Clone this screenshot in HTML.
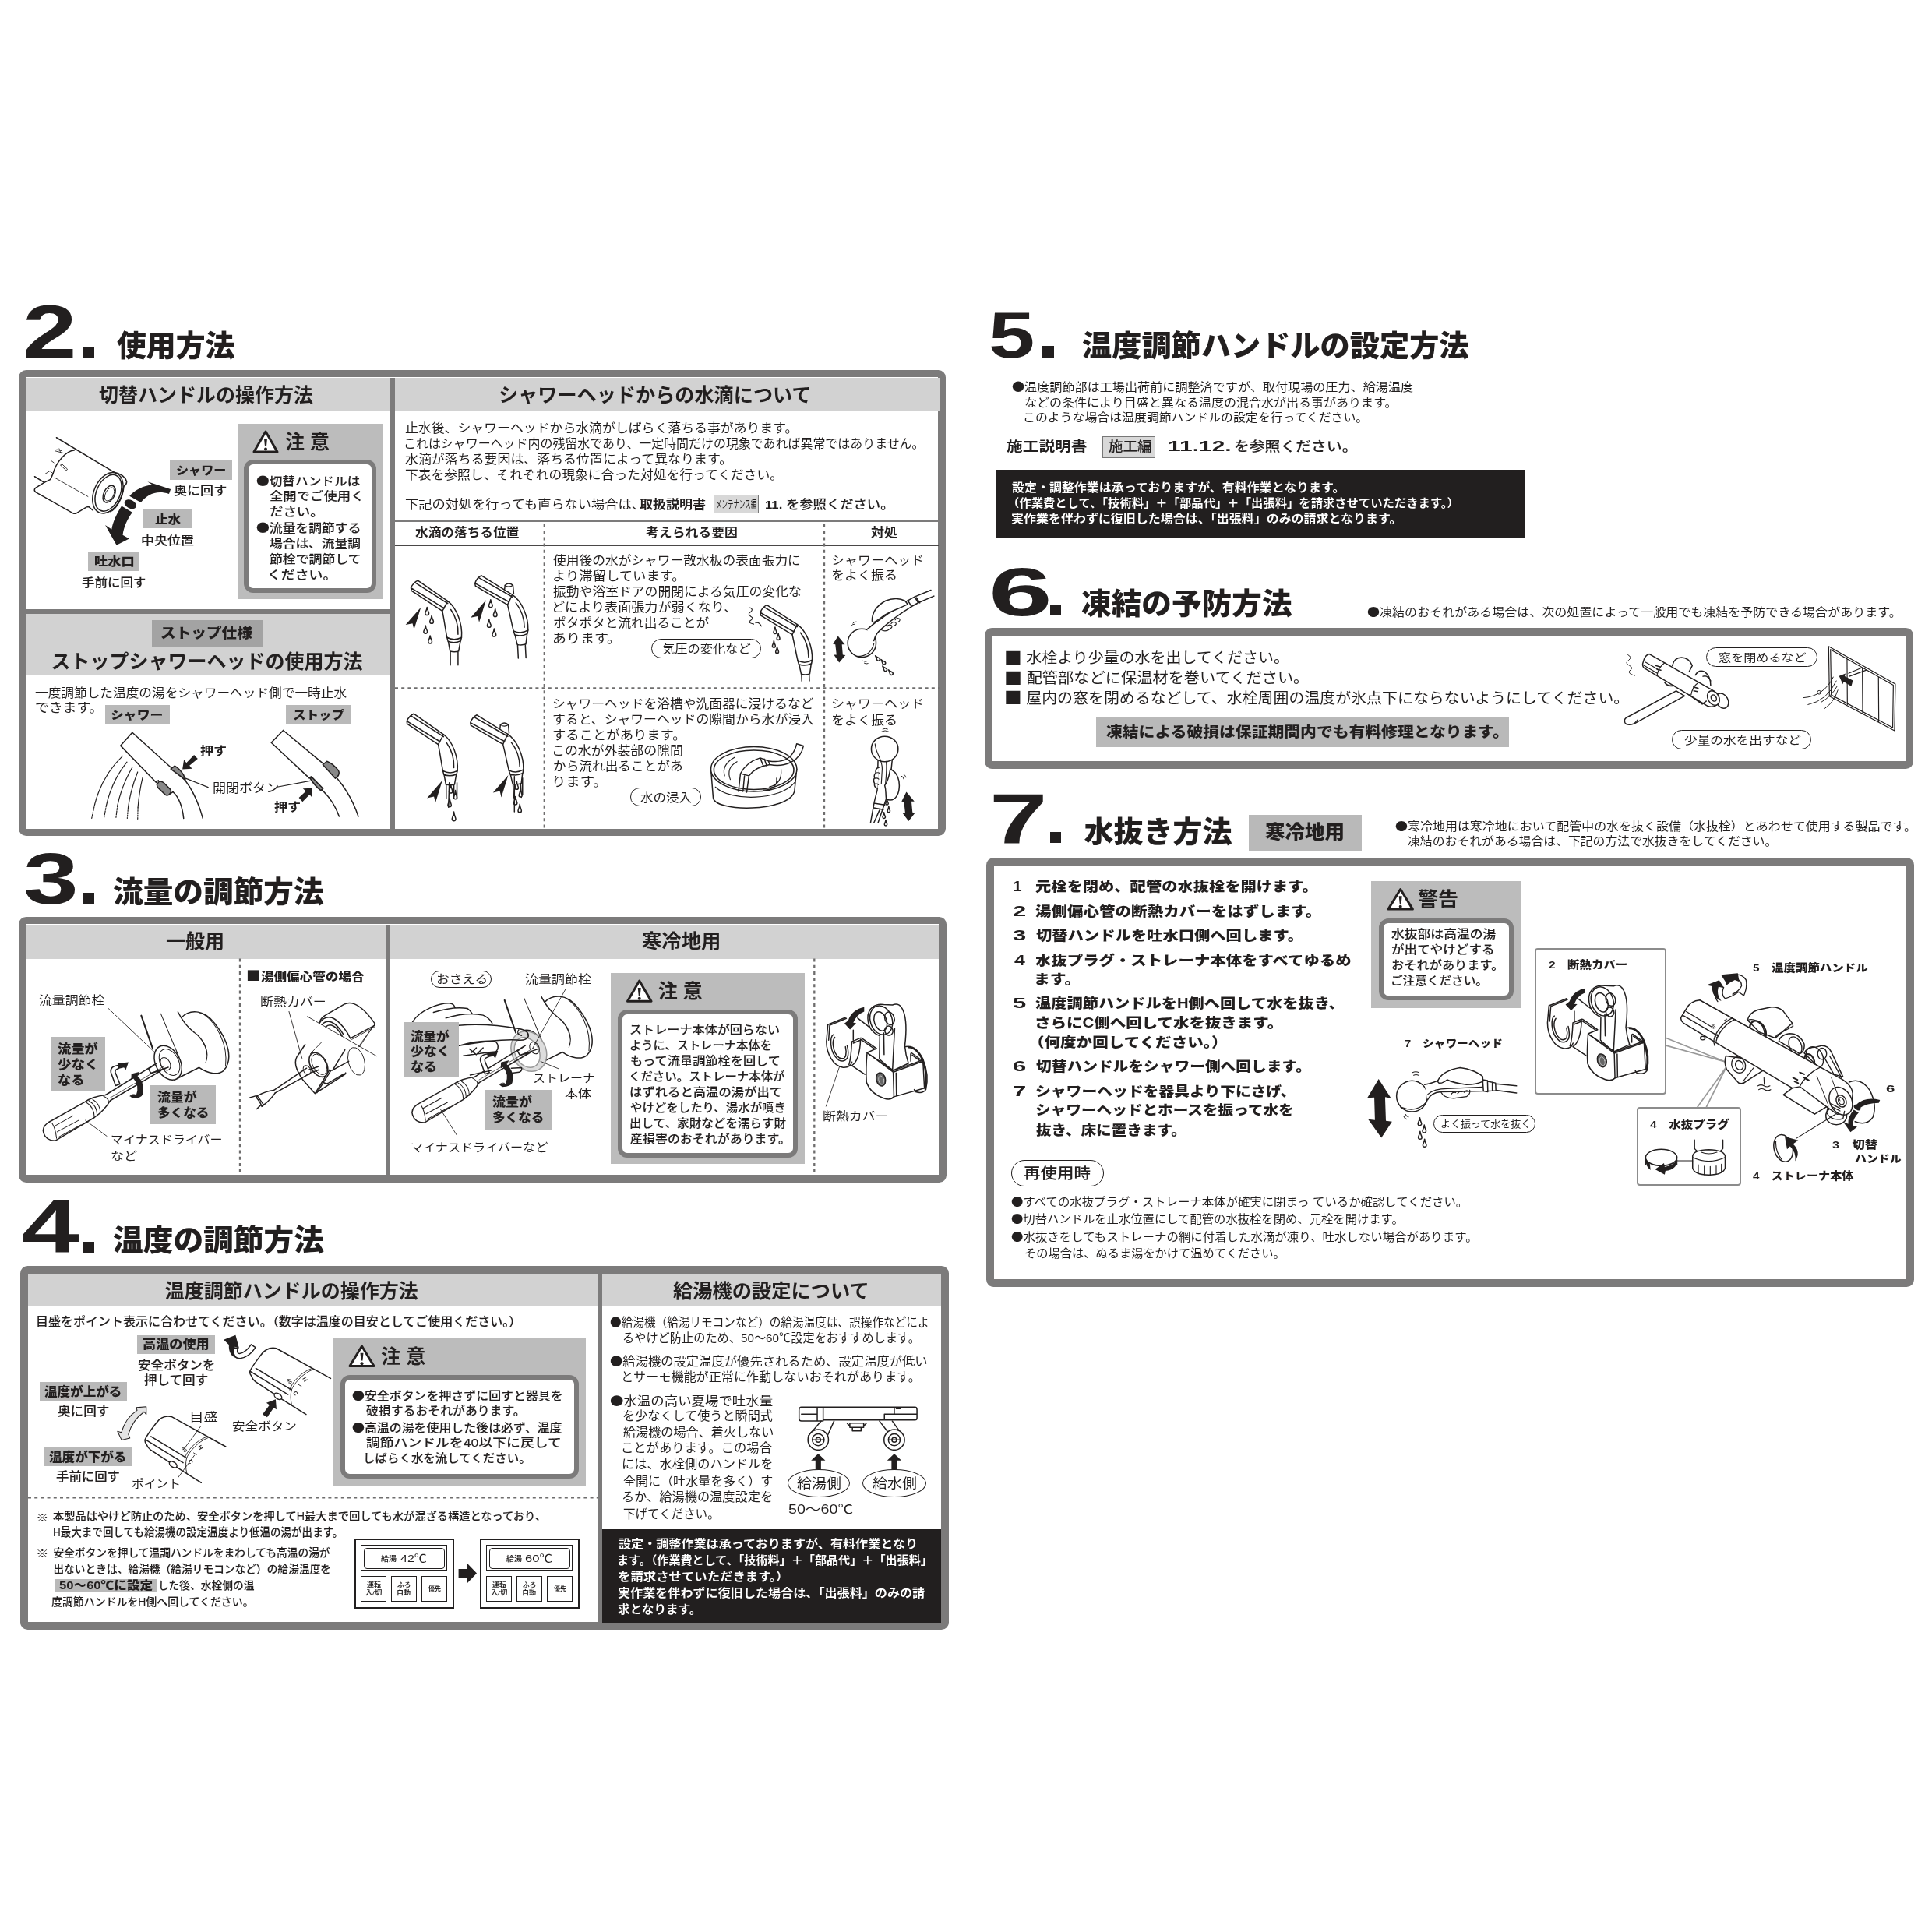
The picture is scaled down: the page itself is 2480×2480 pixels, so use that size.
<!DOCTYPE html><html lang="ja"><head><meta charset="utf-8"><title>取扱説明</title><style>
html,body{margin:0;padding:0;background:#fff}
#pg{will-change:transform;position:relative;width:2480px;height:2480px;overflow:hidden;background:#fff;font-family:"Liberation Sans","Noto Sans CJK JP",sans-serif;color:#221f1f}
.r{position:absolute;box-sizing:content-box}
.t{position:absolute;white-space:nowrap;line-height:1;transform-origin:0 0}
svg.art{position:absolute;left:0;top:0}
.j,.j2{font-family:"Noto Sans CJK JP",sans-serif}.j2{font-size:1.14em;position:relative;top:0.04em}
</style></head><body><div id="pg">
<div class="r" style="left:106.5px;top:445.0px;width:14.0px;height:14.0px;background:#221f1f;"></div>
<div class="r" style="left:24.0px;top:475.0px;width:1170.4px;height:580.4px;background:#fff;border-style:solid;border-color:#7c7b7b;border-width:9.7px 10.5px 9.6px 10.7px;border-radius:9.5px;"></div>
<div class="r" style="left:34.0px;top:484.5px;width:467.0px;height:43.0px;background:#d2d2d2;"></div>
<div class="r" style="left:507.0px;top:484.5px;width:698.5px;height:43.0px;background:#d2d2d2;"></div>
<div class="r" style="left:501.0px;top:484.5px;width:6.0px;height:580.0px;background:#7c7b7b;"></div>
<div class="r" style="left:34.0px;top:782.0px;width:467.0px;height:6.0px;background:#7c7b7b;"></div>
<div class="r" style="left:34.0px;top:788.0px;width:467.0px;height:79.3px;background:#d2d2d2;"></div>
<div class="r" style="left:507.0px;top:666.8px;width:698.2px;height:3.1px;background:#7c7b7b;"></div>
<div class="r" style="left:507.0px;top:699.2px;width:698.2px;height:1.8px;background:#4a4848;"></div>
<div class="r" style="left:305.0px;top:544.0px;width:186.0px;height:224.5px;background:#bcbcbc;"></div>
<div class="r" style="left:313.0px;top:590.0px;width:158.0px;height:159.0px;background:#fff;border:6px solid #7c7b7b;border-radius:12px;"></div>
<div class="r" style="left:218.0px;top:591.0px;width:80.0px;height:24.8px;background:#b9b9b9;"></div>
<div class="r" style="left:184.0px;top:654.0px;width:63.0px;height:24.4px;background:#b9b9b9;"></div>
<div class="r" style="left:113.0px;top:708.0px;width:65.8px;height:25.0px;background:#b9b9b9;"></div>
<div class="r" style="left:194.8px;top:796.0px;width:142.8px;height:33.7px;background:#a3a3a3;"></div>
<div class="r" style="left:134.8px;top:905.0px;width:82.8px;height:24.5px;background:#b9b9b9;"></div>
<div class="r" style="left:366.8px;top:905.0px;width:84.2px;height:24.5px;background:#b9b9b9;"></div>
<div class="r" style="left:916.0px;top:634.7px;width:56.0px;height:21.9px;background:#d8d8d8;border:1.5px solid #777;"></div>
<div class="r" style="left:835.5px;top:820.0px;width:139.5px;height:23.0px;background:#fff;border:1.5px solid #221f1f;border-radius:13.0px;"></div>
<div class="r" style="left:808.7px;top:1010.9px;width:89.3px;height:22.6px;background:#fff;border:1.5px solid #221f1f;border-radius:12.800000000000011px;"></div>
<div class="r" style="left:106.5px;top:1146.0px;width:14.0px;height:14.0px;background:#221f1f;"></div>
<div class="r" style="left:24.1px;top:1177.1px;width:1170.5px;height:322.1px;background:#fff;border-style:solid;border-color:#7c7b7b;border-width:9.8px 10.4px 10px 10.7px;border-radius:9.5px;"></div>
<div class="r" style="left:34.0px;top:1186.9px;width:461.5px;height:44.1px;background:#d2d2d2;"></div>
<div class="r" style="left:501.0px;top:1186.9px;width:704.3px;height:44.1px;background:#d2d2d2;"></div>
<div class="r" style="left:495.3px;top:1187.3px;width:5.7px;height:321.5px;background:#7c7b7b;"></div>
<div class="r" style="left:553.0px;top:1245.8px;width:75.8px;height:19.8px;background:#fff;border:1.5px solid #221f1f;border-radius:11.399999999999977px;"></div>
<div class="r" style="left:784.0px;top:1249.3px;width:248.7px;height:244.3px;background:#bcbcbc;"></div>
<div class="r" style="left:792.7px;top:1295.7px;width:219.3px;height:178.0px;background:#fff;border:6px solid #7c7b7b;border-radius:12px;"></div>
<div class="r" style="left:106.0px;top:1593.5px;width:14.5px;height:14.5px;background:#221f1f;"></div>
<div class="r" style="left:25.8px;top:1625.1px;width:1171.8px;height:447.4px;background:#fff;border-style:solid;border-color:#7c7b7b;border-width:10.4px 10.1px 10.3px 10px;border-radius:9.5px;"></div>
<div class="r" style="left:36.0px;top:1635.3px;width:731.0px;height:41.2px;background:#d2d2d2;"></div>
<div class="r" style="left:773.0px;top:1635.3px;width:434.6px;height:41.2px;background:#d2d2d2;"></div>
<div class="r" style="left:767.0px;top:1635.3px;width:6.0px;height:447.3px;background:#7c7b7b;"></div>
<div class="r" style="left:176.0px;top:1713.6px;width:99.7px;height:24.2px;background:#b9b9b9;"></div>
<div class="r" style="left:51.3px;top:1774.0px;width:112.2px;height:24.4px;background:#b9b9b9;"></div>
<div class="r" style="left:57.0px;top:1858.0px;width:111.8px;height:24.3px;background:#b9b9b9;"></div>
<div class="r" style="left:428.0px;top:1718.0px;width:323.7px;height:188.6px;background:#bcbcbc;"></div>
<div class="r" style="left:437.0px;top:1765.0px;width:293.8px;height:121.0px;background:#fff;border:6px solid #7c7b7b;border-radius:12px;"></div>
<div class="r" style="left:70.2px;top:2027.3px;width:131.8px;height:16.6px;background:#b9b9b9;"></div>
<div class="r" style="left:455.4px;top:1974.8px;width:124.0px;height:86.0px;background:#fff;border:2px solid #221f1f;"></div>
<div class="r" style="left:463.4px;top:1982.9px;width:108.8px;height:31.5px;background:#fff;border:1.6px solid #221f1f;"></div>
<div class="r" style="left:467.4px;top:1986.5px;width:102.0px;height:25.5px;background:#fff;border:1px solid #221f1f;border-radius:4px;"></div>
<div class="r" style="left:463.4px;top:2023.0px;width:30.8px;height:30.5px;background:#fff;border:1.6px solid #221f1f;"></div>
<div class="r" style="left:502.4px;top:2023.0px;width:30.8px;height:30.5px;background:#fff;border:1.6px solid #221f1f;"></div>
<div class="r" style="left:541.4px;top:2023.0px;width:30.8px;height:30.5px;background:#fff;border:1.6px solid #221f1f;"></div>
<div class="r" style="left:616.3px;top:1974.8px;width:124.0px;height:86.0px;background:#fff;border:2px solid #221f1f;"></div>
<div class="r" style="left:624.3px;top:1982.9px;width:108.8px;height:31.5px;background:#fff;border:1.6px solid #221f1f;"></div>
<div class="r" style="left:628.3px;top:1986.5px;width:102.0px;height:25.5px;background:#fff;border:1px solid #221f1f;border-radius:4px;"></div>
<div class="r" style="left:624.3px;top:2023.0px;width:30.8px;height:30.5px;background:#fff;border:1.6px solid #221f1f;"></div>
<div class="r" style="left:663.3px;top:2023.0px;width:30.8px;height:30.5px;background:#fff;border:1.6px solid #221f1f;"></div>
<div class="r" style="left:702.3px;top:2023.0px;width:30.8px;height:30.5px;background:#fff;border:1.6px solid #221f1f;"></div>
<div class="r" style="left:1010.5px;top:1886.0px;width:78.5px;height:34.0px;background:#fff;border:1.5px solid #221f1f;border-radius:50%;"></div>
<div class="r" style="left:1107.4px;top:1886.0px;width:79.4px;height:34.0px;background:#fff;border:1.5px solid #221f1f;border-radius:50%;"></div>
<div class="r" style="left:773.0px;top:1962.8px;width:434.6px;height:119.8px;background:#221f1f;"></div>
<div class="r" style="left:1338.0px;top:444.0px;width:14.5px;height:14.5px;background:#221f1f;"></div>
<div class="r" style="left:1415.4px;top:559.6px;width:66.0px;height:26.1px;background:#d8d8d8;border:1.5px solid #777;"></div>
<div class="r" style="left:1279.4px;top:602.9px;width:677.6px;height:87.6px;background:#221f1f;"></div>
<div class="r" style="left:1348.0px;top:775.5px;width:14.0px;height:14.0px;background:#221f1f;"></div>
<div class="r" style="left:1264.1px;top:806.3px;width:1171.6px;height:160.6px;background:#fff;border-style:solid;border-color:#7c7b7b;border-width:10.4px 10.4px 10.4px 10.7px;border-radius:9.5px;"></div>
<div class="r" style="left:1406.5px;top:920.8px;width:530.5px;height:37.9px;background:#b9b9b9;"></div>
<div class="r" style="left:2190.0px;top:830.5px;width:140.5px;height:23.5px;background:#fff;border:1.5px solid #221f1f;border-radius:13.25px;"></div>
<div class="r" style="left:2146.0px;top:936.6px;width:177.0px;height:23.4px;background:#fff;border:1.5px solid #221f1f;border-radius:13.199999999999989px;"></div>
<div class="r" style="left:1348.4px;top:1068.4px;width:13.6px;height:13.6px;background:#221f1f;"></div>
<div class="r" style="left:1603.0px;top:1045.5px;width:145.0px;height:46.1px;background:#b9b9b9;"></div>
<div class="r" style="left:1266.1px;top:1101.3px;width:1171.4px;height:530.8px;background:#fff;border-style:solid;border-color:#7c7b7b;border-width:10.3px 10.6px 10.4px 10.6px;border-radius:9.5px;"></div>
<div class="r" style="left:1298.0px;top:1489.0px;width:117.0px;height:32.0px;background:#fff;border:1.5px solid #221f1f;border-radius:17.5px;"></div>
<div class="r" style="left:1760.0px;top:1130.7px;width:192.7px;height:162.9px;background:#bcbcbc;"></div>
<div class="r" style="left:1770.0px;top:1178.7px;width:161.0px;height:93.3px;background:#fff;border:6px solid #7c7b7b;border-radius:12px;"></div>
<div class="r" style="left:1839.7px;top:1431.0px;width:129.3px;height:20.7px;background:#fff;border:1.5px solid #221f1f;border-radius:11.850000000000023px;"></div>
<div class="r" style="left:1969.5px;top:1217.3px;width:165.7px;height:184.0px;background:#fff;border:2px solid #8c8c8c;border-radius:4px;"></div>
<div class="r" style="left:2100.5px;top:1420.7px;width:130.1px;height:97.3px;background:#fff;border:2px solid #8c8c8c;border-radius:4px;"></div>
<svg class="art" width="2480" height="2480" viewBox="0 0 2480 2480" fill="none" stroke="#221f1f" stroke-width="1.5" stroke-linecap="round" stroke-linejoin="round"><path d="M698.8 673V1064.5" stroke="#6e6d6d" stroke-width="2.3" stroke-dasharray="4 4.2" stroke-linecap="butt"/><path d="M1058 673V1064.5" stroke="#6e6d6d" stroke-width="2.3" stroke-dasharray="4 4.2" stroke-linecap="butt"/><path d="M507 883.3H1205.5" stroke="#6e6d6d" stroke-width="2.3" stroke-dasharray="4 4.2" stroke-linecap="butt"/><path d="M308 1230.5V1508.8" stroke="#6e6d6d" stroke-width="2.3" stroke-dasharray="4 4.2" stroke-linecap="butt"/><path d="M1045.3 1230.5V1508.8" stroke="#6e6d6d" stroke-width="2.3" stroke-dasharray="4 4.2" stroke-linecap="butt"/><path d="M36 1922.3H767" stroke="#6e6d6d" stroke-width="2.3" stroke-dasharray="4 4.2" stroke-linecap="butt"/><path d="M341.0 554.0 L356 579.9 H326Z" fill="#fff" stroke="#221f1f" stroke-width="3" stroke-linejoin="round"/><path d="M339.0 562.904 h4 l-1 9.825999999999993 h-2Z" fill="#221f1f" stroke="none"/><circle cx="341.0" cy="576.487" r="2" fill="#221f1f" stroke="none"/><path d="M820.75 1259.1 L836 1285.2 H805.5Z" fill="#fff" stroke="#221f1f" stroke-width="3" stroke-linejoin="round"/><path d="M818.75 1268.076 h4 l-1 9.894000000000046 h-2Z" fill="#221f1f" stroke="none"/><circle cx="820.75" cy="1281.753" r="2" fill="#221f1f" stroke="none"/><path d="M464.5 1728.0 L480 1753.5 H449Z" fill="#fff" stroke="#221f1f" stroke-width="3" stroke-linejoin="round"/><path d="M462.5 1736.76 h4 l-1 9.690000000000001 h-2Z" fill="#221f1f" stroke="none"/><circle cx="464.5" cy="1750.155" r="2" fill="#221f1f" stroke="none"/><path d="M1797.7 1141.5 L1813.4 1167.1 H1782Z" fill="#fff" stroke="#221f1f" stroke-width="3" stroke-linejoin="round"/><path d="M1795.7 1150.296 h4 l-1 9.72399999999997 h-2Z" fill="#221f1f" stroke="none"/><circle cx="1797.7" cy="1163.7379999999998" r="2" fill="#221f1f" stroke="none"/><g transform="translate(30,540) scale(0.14493)" stroke-width="10.35" ><path d="M293 150 L800 455 M450 262 C380 268 292 360 262 470 L240 520 M100 495 L185 548"/><path d="M240 520 L185 548 L105 598 Q90 614 108 632 L440 820 Q456 828 472 818 L560 765 L578 762 L612 792" fill="none"/><path d="M278 505 L572 672" stroke-width="6"/><ellipse cx="748" cy="640" rx="122" ry="190" transform="rotate(24 748 640)" fill="#fff"/><ellipse cx="752" cy="640" rx="104" ry="170" transform="rotate(24 752 640)"/><ellipse cx="760" cy="650" rx="48" ry="80" transform="rotate(26 760 650)"/><ellipse cx="763" cy="652" rx="36" ry="64" transform="rotate(26 763 652)" stroke-width="6"/><path d="M800 455 C860 468 905 500 915 540 C915 562 900 575 890 582 C880 690 820 785 770 805"/><path d="M282 268 l70 18 m-55 -30 l40 10 m-20 -18 l15 40 M240 350 l30 22 M195 470 l40 -25 l30 25 M330 395 l45 42 q12 5 15 -8 l-45 -42 q-12 -5 -15 8" stroke-width="6"/><path d="M1100 540 L1305 608 L1290 648 C1180 612 1100 650 1040 724 L940 667 C990 612 1060 578 1140 568 Z" fill="#221f1f" stroke="none"/><ellipse cx="948" cy="740" rx="56" ry="37" transform="rotate(28 948 740)" fill="#221f1f" stroke="none"/><path d="M870 755 C822 830 792 900 782 962 L725 925 L825 1102 L937 1046 L880 1012 C890 940 920 872 965 812 Z" fill="#221f1f" stroke="none"/></g><g transform="translate(100,930) scale(0.19670)" stroke-width="7.63" ><path d="M355 52 L700 365 C750 430 790 520 815 612 M355 52 L278 138 L510 378 L525 365 M620 440 C665 480 682 540 690 612"/><path d="M515 392 L530 372 Q545 368 560 380 L605 425 Q612 440 598 455 Q585 468 570 458 L520 410 Z" fill="#888"/><path d="M606 290 L632 270 Q665 290 690 330 L702 362 Z" fill="#888"/><path d="M598 455 L620 440"/><path d="M292 205 Q160 330 110 520" stroke-width="6"/><path d="M110 520 L90 612" stroke-width="6" stroke-dasharray="9 8"/><path d="M320 245 Q220 370 185 530" stroke-width="6"/><path d="M185 530 L170 612" stroke-width="6" stroke-dasharray="9 8"/><path d="M355 280 Q285 400 258 530" stroke-width="6"/><path d="M258 530 L248 612" stroke-width="6" stroke-dasharray="9 8"/><path d="M390 310 Q345 420 328 540" stroke-width="6"/><path d="M328 540 L322 612" stroke-width="6" stroke-dasharray="9 8"/><path d="M422 348 Q400 440 392 540" stroke-width="6"/><path d="M392 540 L390 620" stroke-width="6" stroke-dasharray="9 8"/><path d="M758 198 L782 224 L728 268 L745 288 L682 292 L692 230 L708 250 Z" fill="#221f1f" stroke="none"/><path d="M700 350 L850 410 M1300 408 L1515 368" stroke-width="6"/><path d="M1340 38 L1600 255 M1690 350 C1750 420 1800 510 1830 600 M1340 38 L1262 118 L1510 350 L1522 340 M1590 425 C1640 470 1680 530 1705 600"/><path d="M1598 262 L1625 240 Q1665 255 1700 300 Q1712 322 1692 342 L1680 352 Z" fill="#888"/><path d="M1516 352 L1528 345 L1600 418 L1585 430 Q1545 400 1516 352 Z" fill="#888"/><path d="M1442 478 L1466 504 L1512 458 L1530 478 L1530 415 L1468 418 L1488 435 Z" fill="#221f1f" stroke="none"/></g><g transform="translate(500,690) scale(0.19670)" stroke-width="7.63" ><g transform="translate(185 280) rotate(0)"><path d="M0 0 L195 135 M0 0 Q-30 12 -45 48 L-43 66 L160 200 M-45 48 L172 182 M-18 14 L195 150 M195 135 L160 200"/><path d="M195 135 C255 180 292 285 285 372 M160 200 C172 260 180 320 190 372 M215 190 C250 240 264 300 262 352"/><path d="M190 372 Q237 398 285 372 M196 397 Q237 414 280 394 M190 372 L197 398 M285 372 L279 396 M199 402 L210 462 M277 400 L266 462 M210 462 Q238 470 266 462 M212 462 V552 M262 462 V552"/></g><path d="M0 0 L-100 115 L-55 105 L-45 145 Z" fill="#221f1f" stroke="none" transform="translate(205 455)"/><path d="M245 455 C242.6 477.5 233.0 485.0 233.0 494.0 A12.0 12.0 0 0 0 257.0 494.0 C257.0 485.0 247.4 477.5 245 455Z" fill="#fff"/><path d="M275 510 C272.6 532.5 263.0 540.0 263.0 549.0 A12.0 12.0 0 0 0 287.0 549.0 C287.0 540.0 277.4 532.5 275 510Z" fill="#fff"/><path d="M235 575 C232.6 597.5 223.0 605.0 223.0 614.0 A12.0 12.0 0 0 0 247.0 614.0 C247.0 605.0 237.4 597.5 235 575Z" fill="#fff"/><path d="M265 640 C262.6 662.5 253.0 670.0 253.0 679.0 A12.0 12.0 0 0 0 277.0 679.0 C277.0 670.0 267.4 662.5 265 640Z" fill="#fff"/></g><g transform="translate(500,690) scale(0.19670)" stroke-width="7.63" ><g transform="translate(600 248) rotate(-3)"><path d="M0 0 L195 135 M0 0 Q-30 12 -45 48 L-43 66 L160 200 M-45 48 L172 182 M-18 14 L195 150 M195 135 L160 200"/><path d="M195 135 C255 180 292 285 285 372 M160 200 C172 260 180 320 190 372 M215 190 C250 240 264 300 262 352"/><path d="M190 372 Q237 398 285 372 M196 397 Q237 414 280 394 M190 372 L197 398 M285 372 L279 396 M199 402 L210 462 M277 400 L266 462 M210 462 Q238 470 266 462 M212 462 V552 M262 462 V552"/><path d="M146 98 L150 72 Q174 50 202 74 L204 128" fill="#fff"/><path d="M150 72 Q176 92 202 74" stroke-width="6"/></g><path d="M0 0 L-100 115 L-55 105 L-45 145 Z" fill="#221f1f" stroke="none" transform="translate(630 408)"/><path d="M660 405 C657.6 427.5 648.0 435.0 648.0 444.0 A12.0 12.0 0 0 0 672.0 444.0 C672.0 435.0 662.4 427.5 660 405Z" fill="#fff"/><path d="M690 465 C687.6 487.5 678.0 495.0 678.0 504.0 A12.0 12.0 0 0 0 702.0 504.0 C702.0 495.0 692.4 487.5 690 465Z" fill="#fff"/><path d="M650 535 C647.6 557.5 638.0 565.0 638.0 574.0 A12.0 12.0 0 0 0 662.0 574.0 C662.0 565.0 652.4 557.5 650 535Z" fill="#fff"/><path d="M683 595 C680.6 617.5 671.0 625.0 671.0 634.0 A12.0 12.0 0 0 0 695.0 634.0 C695.0 625.0 685.4 617.5 683 595Z" fill="#fff"/></g><g transform="translate(500,690) scale(0.19670)" stroke-width="7.63" ><g transform="translate(158 1150) rotate(0)"><path d="M0 0 L195 135 M0 0 Q-30 12 -45 48 L-43 66 L160 200 M-45 48 L172 182 M-18 14 L195 150 M195 135 L160 200"/><path d="M195 135 C255 180 292 285 285 372 M160 200 C172 260 180 320 190 372 M215 190 C250 240 264 300 262 352"/><path d="M190 372 Q237 398 285 372 M196 397 Q237 414 280 394 M190 372 L197 398 M285 372 L279 396 M199 402 L210 462 M277 400 L266 462 M210 462 Q238 470 266 462 M212 462 V552 M262 462 V552"/></g><path d="M0 0 L-100 115 L-55 105 L-45 145 Z" fill="#221f1f" stroke="none" transform="translate(345 1585)"/><path d="M400 1610 C397.8 1637.0 389.0 1646.0 389.0 1656.8 A11.0 11.0 0 0 0 411.0 1656.8 C411.0 1646.0 402.2 1637.0 400 1610Z" fill="#fff"/><path d="M430 1650 C428.0 1677.0 420.0 1686.0 420.0 1696.8 A10.0 10.0 0 0 0 440.0 1696.8 C440.0 1686.0 432.0 1677.0 430 1650Z" fill="#fff"/><path d="M392 1700 C389.8 1727.0 381.0 1736.0 381.0 1746.8 A11.0 11.0 0 0 0 403.0 1746.8 C403.0 1736.0 394.2 1727.0 392 1700Z" fill="#fff"/><path d="M420 1790 C417.6 1817.0 408.0 1826.0 408.0 1836.8 A12.0 12.0 0 0 0 432.0 1836.8 C432.0 1826.0 422.4 1817.0 420 1790Z" fill="#fff"/><path d="M390 1600 L385 1760 M440 1600 L440 1700"/></g><g transform="translate(500,690) scale(0.19670)" stroke-width="7.63" ><g transform="translate(570 1158) rotate(-3)"><path d="M0 0 L195 135 M0 0 Q-30 12 -45 48 L-43 66 L160 200 M-45 48 L172 182 M-18 14 L195 150 M195 135 L160 200"/><path d="M195 135 C255 180 292 285 285 372 M160 200 C172 260 180 320 190 372 M215 190 C250 240 264 300 262 352"/><path d="M190 372 Q237 398 285 372 M196 397 Q237 414 280 394 M190 372 L197 398 M285 372 L279 396 M199 402 L210 462 M277 400 L266 462 M210 462 Q238 470 266 462 M212 462 V552 M262 462 V552"/><path d="M146 98 L150 72 Q174 50 202 74 L204 128" fill="#fff"/><path d="M150 72 Q176 92 202 74" stroke-width="6"/></g><path d="M0 0 L-100 115 L-55 105 L-45 145 Z" fill="#221f1f" stroke="none" transform="translate(775 1550)"/><path d="M830 1590 C827.8 1614.75 819.0 1623.0 819.0 1632.9 A11.0 11.0 0 0 0 841.0 1632.9 C841.0 1623.0 832.2 1614.75 830 1590Z" fill="#fff"/><path d="M855 1640 C853.0 1664.75 845.0 1673.0 845.0 1682.9 A10.0 10.0 0 0 0 865.0 1682.9 C865.0 1673.0 857.0 1664.75 855 1640Z" fill="#fff"/><path d="M822 1690 C819.8 1714.75 811.0 1723.0 811.0 1732.9 A11.0 11.0 0 0 0 833.0 1732.9 C833.0 1723.0 824.2 1714.75 822 1690Z" fill="#fff"/><path d="M850 1740 C847.8 1764.75 839.0 1773.0 839.0 1782.9 A11.0 11.0 0 0 0 861.0 1782.9 C861.0 1773.0 852.2 1764.75 850 1740Z" fill="#fff"/><path d="M815 1560 L815 1790 M868 1570 L868 1680"/></g><g transform="translate(880,700) scale(0.19151)" stroke-width="7.83" ><g transform="translate(545 400) scale(1.02) rotate(-2)"><path d="M0 0 L195 135 M0 0 Q-30 12 -45 48 L-43 66 L160 200 M-45 48 L172 182 M-18 14 L195 150 M195 135 L160 200"/><path d="M195 135 C255 180 292 285 285 372 M160 200 C172 260 180 320 190 372 M215 190 C250 240 264 300 262 352"/><path d="M190 372 Q237 398 285 372 M196 397 Q237 414 280 394 M190 372 L197 398 M285 372 L279 396 M199 402 L210 462 M277 400 L266 462 M210 462 Q238 470 266 462 M212 462 V508 M262 462 V508"/></g><path d="M600 548 C598.0 567.8 590.0 574.4 590.0 582.32 A10.0 10.0 0 0 0 610.0 582.32 C610.0 574.4 602.0 567.8 600 548Z" fill="#fff"/><path d="M622 590 C620.0 609.8 612.0 616.4 612.0 624.32 A10.0 10.0 0 0 0 632.0 624.32 C632.0 616.4 624.0 609.8 622 590Z" fill="#fff"/><path d="M592 640 C590.0 659.8 582.0 666.4 582.0 674.32 A10.0 10.0 0 0 0 602.0 674.32 C602.0 666.4 594.0 659.8 592 640Z" fill="#fff"/><path d="M614 680 C612.0 699.8 604.0 706.4 604.0 714.32 A10.0 10.0 0 0 0 624.0 714.32 C624.0 706.4 616.0 699.8 614 680Z" fill="#fff"/><path d="M432 418 q25 10 5 28 q-25 12 0 30 q25 12 -5 30 q-20 12 25 22 M470 520 q20 -10 38 22" stroke-width="6"/><path d="M1022 608 L1068 664 L1048 664 L1054 733 L1072 736 L1030 786 L994 733 L1012 733 L1004 664 L988 662 Z" fill="#221f1f" stroke="none"/><circle cx="1182" cy="655" r="95" fill="#fff"/><path d="M1150 745 Q1240 745 1262 660" stroke-width="6"/><path d="M1215 565 C1250 540 1260 520 1300 500 C1380 440 1440 400 1490 370 L1515 410 C1450 450 1380 500 1330 545 C1290 580 1270 600 1262 640" fill="#fff"/><path d="M1250 505 C1250 440 1290 400 1340 372 C1390 350 1440 355 1470 372 L1490 395 C1440 420 1380 440 1330 470 C1300 490 1280 510 1262 515 Q1250 515 1250 505 Z" fill="#fff"/><path d="M1490 370 L1535 345 L1560 385 L1515 410 M1535 345 L1645 300 M1560 385 L1665 340 M1548 350 l22 36"/><path d="M1350 545 q10 -18 30 -8 q10 12 -8 22 M1378 525 q10 -18 30 -8 q10 12 -8 22 M1405 500 q10 -18 28 -8 q10 12 -8 22 M1310 565 q30 20 60 -5" stroke-width="6"/><path d="M1110 540 q10 -14 25 -12 M1122 522 q10 -12 22 -10 M1190 775 q12 8 25 2 M1198 790 q12 8 25 2" stroke-width="5"/><path d="M1272 740 C1270.0 758.0 1262.0 764.0 1262.0 771.2 A10.0 10.0 0 0 0 1282.0 771.2 C1282.0 764.0 1274.0 758.0 1272 740Z" fill="#fff" transform="rotate(-40 1272 740)"/><path d="M1310 765 C1308.0 783.0 1300.0 789.0 1300.0 796.2 A10.0 10.0 0 0 0 1320.0 796.2 C1320.0 789.0 1312.0 783.0 1310 765Z" fill="#fff" transform="rotate(-40 1310 765)"/><path d="M1320 810 C1318.0 828.0 1310.0 834.0 1310.0 841.2 A10.0 10.0 0 0 0 1330.0 841.2 C1330.0 834.0 1322.0 828.0 1320 810Z" fill="#fff" transform="rotate(-40 1320 810)"/><path d="M1360 835 C1358.0 853.0 1350.0 859.0 1350.0 866.2 A10.0 10.0 0 0 0 1370.0 866.2 C1370.0 859.0 1362.0 853.0 1360 835Z" fill="#fff" transform="rotate(-40 1360 835)"/><path d="M170 1500 L185 1690 C190 1790 690 1790 730 1650 L745 1500" fill="#fff"/><ellipse cx="458" cy="1500" rx="288" ry="150" fill="#fff"/><ellipse cx="458" cy="1505" rx="268" ry="132"/><path d="M200 1620 C300 1720 640 1710 730 1590" stroke-width="6"/><path d="M262 1545 Q240 1470 330 1420 M300 1570 Q270 1490 345 1450 M560 1620 Q650 1600 640 1500 M520 1640 Q620 1640 610 1560" stroke-width="6"/><path d="M355 1650 L368 1530 C400 1470 450 1440 500 1425 L555 1445 L565 1470 C500 1480 450 1510 425 1545 L410 1655 M385 1650 L395 1545 M425 1545 L368 1530 M500 1425 L520 1475 M528 1432 L545 1480 M555 1445 C640 1460 720 1440 745 1330 M565 1470 C660 1490 770 1450 790 1345 M745 1330 L790 1345" fill="none"/><ellipse cx="1335" cy="1365" rx="90" ry="85" fill="#fff"/><path d="M1270 1330 C1275 1400 1320 1430 1318 1500 L1312 1600 M1345 1448 C1350 1500 1345 1550 1340 1600" stroke-width="6"/><path d="M1290 1440 L1285 1640 L1265 1720 L1240 1860 M1385 1440 C1380 1520 1370 1600 1345 1700 L1290 1860 M1270 1730 L1335 1740 M1262 1760 L1325 1772 M1300 1775 L1262 1860"/><path d="M1372 1500 C1420 1520 1440 1580 1430 1640 C1420 1700 1380 1720 1345 1700 C1340 1660 1345 1640 1335 1610 C1360 1580 1365 1540 1372 1500 Z M1295 1490 q-25 5 -20 35 q-15 10 -8 35 q-12 12 0 38 q-5 25 20 30" fill="#fff"/><path d="M1278 1525 q15 -5 25 5 M1270 1562 q15 -5 25 5 M1268 1600 q15 -5 25 5" stroke-width="6"/><path d="M1315 1248 q22 -12 45 0 M1322 1232 q16 -8 32 0 M1445 1545 q15 5 18 22 M1462 1535 q12 5 15 20" stroke-width="5"/><path d="M1350 1700 C1348.2 1718.0 1341.0 1724.0 1341.0 1731.2 A9.0 9.0 0 0 0 1359.0 1731.2 C1359.0 1724.0 1351.8 1718.0 1350 1700Z" fill="#fff"/><path d="M1362 1750 C1360.2 1768.0 1353.0 1774.0 1353.0 1781.2 A9.0 9.0 0 0 0 1371.0 1781.2 C1371.0 1774.0 1363.8 1768.0 1362 1750Z" fill="#fff"/><path d="M1330 1790 C1328.2 1808.0 1321.0 1814.0 1321.0 1821.2 A9.0 9.0 0 0 0 1339.0 1821.2 C1339.0 1814.0 1331.8 1808.0 1330 1790Z" fill="#fff"/><path d="M1342 1840 C1340.2 1858.0 1333.0 1864.0 1333.0 1871.2 A9.0 9.0 0 0 0 1351.0 1871.2 C1351.0 1864.0 1343.8 1858.0 1342 1840Z" fill="#fff"/><path d="M1480 1653 L1534 1716 L1514 1717 L1521 1790 L1538 1794 L1495 1849 L1454 1794 L1472 1792 L1464 1719 L1448 1717 Z" fill="#221f1f" stroke="none"/></g><g transform="translate(40,1270) scale(0.14493)" stroke-width="10.35" ><path d="M680 165 L1180 640" stroke-width="6"/><path d="M1300 200 C1335 270 1385 335 1440 378 M1330 250 C1400 178 1520 170 1625 300 C1745 450 1795 620 1705 720 C1650 765 1560 742 1488 692" fill="#fff"/><path d="M1530 222 C1640 300 1745 480 1722 680" stroke-width="7"/><path d="M1440 378 C1525 440 1585 560 1545 650 M1470 400 C1545 470 1575 560 1550 630" stroke-width="7"/><path d="M1268 802 L1488 692"/><ellipse cx="1212" cy="650" rx="108" ry="162" transform="rotate(-28 1212 650)" fill="#fff"/><ellipse cx="1225" cy="645" rx="80" ry="125" transform="rotate(-28 1225 645)" stroke-width="7"/><ellipse cx="1190" cy="660" rx="40" ry="60" transform="rotate(-28 1190 660)" stroke-width="7"/><path d="M975 232 L1075 520" stroke-width="14"/><path d="M1148 215 L1310 600" stroke-width="7"/><path d="M1110 655 L660 935 M1150 720 L700 985 M1110 655 L1040 705 L1060 742 L1215 690 M1060 742 L1150 720" fill="none"/><path d="M700 960 L1180 680" stroke-width="5"/><path d="M660 935 Q540 950 480 995 L150 1180 Q92 1222 110 1272 Q132 1342 215 1340 L560 1135 Q650 1070 700 985" fill="#fff"/><path d="M480 995 Q560 1040 560 1135 M510 985 Q585 1030 585 1118 M545 975 Q615 1015 612 1100 M640 945 Q690 970 685 1000" stroke-width="7"/><path d="M200 1215 L370 1120 M230 1262 L420 1160 M240 1310 L440 1200 M185 1185 Q215 1230 225 1320" stroke-width="7"/><path d="M748 852 L706 735 Q696 682 772 672 L776 700 Q738 708 746 738 L786 838 Z" fill="#fff"/><path d="M765 655 L862 646 L838 714 L822 692 L772 704 Z" fill="#221f1f" stroke="none"/><path d="M888 748 L962 730 L938 762 Q1012 832 988 930 Q978 962 900 966 L874 946 Q905 925 930 936 Q962 852 906 790 L886 802 Z" fill="#221f1f" stroke="none"/><path d="M875 945 Q890 925 918 932" stroke-width="6"/><path d="M480 1160 L670 1300" stroke-width="6"/></g><g transform="translate(310,1265) scale(0.09835)" stroke-width="15.25" ><path d="M620 340 L790 950 M860 405 L1760 920" stroke-width="9"/><path d="M1020 490 L1030 452 Q1050 412 1100 385 L1340 245 Q1400 215 1470 240 Q1600 290 1742 500 L1735 522 L1420 690 C1380 600 1280 460 1180 420 Q1080 392 1020 490 Z" fill="#fff"/><path d="M1050 510 C1120 430 1230 470 1330 640 M1100 540 C1150 490 1240 520 1312 660" stroke-width="16"/><path d="M1742 500 L1540 800 M1720 530 L1520 810 M1420 690 L1440 705 L1735 540" stroke-width="9"/><ellipse cx="1500" cy="990" rx="105" ry="185" transform="rotate(-15 1500 990)" stroke-width="9"/><path d="M830 770 L745 900 Q690 960 710 1050 Q730 1130 800 1230 L960 1410 L1350 1160 L1360 1140 M960 1410 L1150 1100 M985 1400 L1170 1105 M1180 1110 L1400 990 M1190 1105 L1350 840 M1080 1270 Q1100 1290 1140 1270 L1340 1150"/><ellipse cx="1005" cy="1035" rx="105" ry="170" transform="rotate(-28 1005 1035)" fill="#fff"/><ellipse cx="1015" cy="1030" rx="85" ry="145" transform="rotate(-28 1015 1030)" stroke-width="9"/><path d="M900 890 L1050 735" stroke-width="9"/><ellipse cx="855" cy="1105" rx="45" ry="65" transform="rotate(-28 855 1105)" fill="#fff" stroke-width="10"/><path d="M850 1080 L420 1368 M890 1150 L440 1402 M1000 1060 L880 1100 M1010 1100 L900 1140"/><path d="M420 1368 Q330 1375 205 1440 Q250 1500 290 1560 Q390 1480 440 1402 M205 1440 Q190 1450 200 1470 Q250 1530 265 1580 L290 1560 M110 1465 L190 1440 M200 1612 L250 1562" fill="none"/></g><g transform="translate(510,1235) scale(0.14493)" stroke-width="10.35" ><g transform="translate(-25 105)"><path d="M1300 200 C1335 270 1385 335 1440 378 M1330 250 C1400 178 1520 170 1625 300 C1745 450 1795 620 1705 720 C1650 765 1560 742 1488 692" fill="#fff"/><path d="M1530 222 C1640 300 1745 480 1722 680" stroke-width="7"/><path d="M1440 378 C1525 440 1585 560 1545 650 M1470 400 C1545 470 1575 560 1550 630" stroke-width="7"/><path d="M1268 802 L1488 692"/><ellipse cx="1212" cy="650" rx="108" ry="162" transform="rotate(-28 1212 650)" fill="#fff"/><ellipse cx="1225" cy="645" rx="80" ry="125" transform="rotate(-28 1225 645)" stroke-width="7"/><ellipse cx="1190" cy="660" rx="40" ry="60" transform="rotate(-28 1190 660)" stroke-width="7"/><path d="M975 232 L1075 520" stroke-width="14"/><path d="M1148 215 L1310 600" stroke-width="7"/></g><ellipse cx="1165" cy="790" rx="150" ry="185" transform="rotate(-28 1165 790)" fill="#ddd" stroke="#999"/><ellipse cx="1150" cy="800" rx="105" ry="140" transform="rotate(-28 1150 800)" fill="#fff" stroke="#999"/><ellipse cx="1215" cy="760" rx="40" ry="55" transform="rotate(-28 1215 760)" stroke-width="7"/><g transform="translate(25 82)"><path d="M1110 655 L660 935 M1150 720 L700 985 M1110 655 L1040 705 L1060 742 L1215 690 M1060 742 L1150 720" fill="none"/><path d="M700 960 L1180 680" stroke-width="5"/><path d="M660 935 Q540 950 480 995 L150 1180 Q92 1222 110 1272 Q132 1342 215 1340 L560 1135 Q650 1070 700 985" fill="#fff"/><path d="M480 995 Q560 1040 560 1135 M510 985 Q585 1030 585 1118 M545 975 Q615 1015 612 1100 M640 945 Q690 970 685 1000" stroke-width="7"/><path d="M200 1215 L370 1120 M230 1262 L420 1160 M240 1310 L440 1200 M185 1185 Q215 1230 225 1320" stroke-width="7"/></g><g transform="translate(30 140)"><path d="M748 852 L706 735 Q696 682 772 672 L776 700 Q738 708 746 738 L786 838 Z" fill="#fff"/><path d="M765 655 L862 646 L838 714 L822 692 L772 704 Z" fill="#221f1f" stroke="none"/><path d="M888 748 L962 730 L938 762 Q1012 832 988 930 Q978 962 900 966 L874 946 Q905 925 930 936 Q962 852 906 790 L886 802 Z" fill="#221f1f" stroke="none"/><path d="M875 945 Q890 925 918 932" stroke-width="6"/></g><path d="M135 530 C200 420 380 360 470 365 Q500 370 510 400 M320 445 Q500 390 620 410 Q650 430 665 460 M430 495 Q620 440 760 470 Q810 490 840 540 M545 560 Q800 540 1080 590 Q1170 610 1160 660 Q1140 700 1060 690 Q900 680 545 740 M1075 600 Q1050 640 1100 650 M550 740 Q700 690 860 700 Q900 720 890 770 L870 800 M585 830 L800 800 M645 1000 L830 960 M1010 940 L1100 935 Q1110 960 1080 975 L1000 985 M640 770 L700 820 L760 760 M700 760 L660 800"/><path d="M1490 240 L1195 770 M1270 880 L1430 945 M380 1300 L525 1530" stroke-width="6"/></g><g transform="translate(1045,1270) scale(0.09317)" stroke-width="16.10" ><path d="M1260 790 Q1400 760 1500 960 Q1590 1180 1540 1380 Q1500 1440 1400 1412 L1380 1380" fill="#fff"/><path d="M1300 800 Q1420 800 1500 990 Q1570 1200 1530 1370" stroke-width="22"/><path d="M740 400 C735 255 850 190 960 210 L1080 215 Q1180 170 1230 300 Q1290 450 1250 780 Q1260 900 1300 1020 L1080 1120 L900 960 L905 640 C800 600 745 520 740 400 Z" fill="#fff"/><ellipse cx="925" cy="425" rx="150" ry="205" transform="rotate(-18 925 425)"/><ellipse cx="915" cy="440" rx="85" ry="135" transform="rotate(-18 915 440)"/><ellipse cx="1040" cy="400" rx="65" ry="90" transform="rotate(-18 1040 400)"/><ellipse cx="1030" cy="570" rx="55" ry="65" transform="rotate(-18 1030 570)"/><path d="M1080 1120 L1110 540 M960 600 L965 900"/><path d="M435 385 L190 485 L170 720 C170 880 260 1060 400 1075 C480 1080 510 1040 522 1000 M445 400 L215 495 L200 700 M600 395 L760 520 M540 560 L540 700"/><path d="M265 625 Q225 650 232 760 Q242 900 340 975 Q420 1010 460 940 Q482 880 455 770 M285 660 Q255 700 262 770 Q275 890 350 945 Q410 970 435 920 Q450 860 432 790"/><path d="M520 720 L640 670 L655 672 L860 815 L730 872 M520 720 C512 900 500 980 480 1040 M640 690 C632 880 600 1000 520 1050 L700 1170 M540 740 L650 695 L840 825"/><path d="M730 872 L1090 1140 L1100 1480 Q1050 1532 960 1500 Q780 1440 722 1280 Q710 1100 730 872 Z" fill="#fff"/><path d="M1090 1140 L1500 990 L1520 1360 L1100 1480 M1130 1150 L1135 1465 M750 890 L1095 1118 L1490 975 M1500 990 L1350 880 Q1330 872 1330 900 L1332 990 M1352 905 L1480 1000"/><ellipse cx="920" cy="1240" rx="62" ry="92" transform="rotate(-15 920 1240)" fill="#666"/><ellipse cx="925" cy="1250" rx="35" ry="60" transform="rotate(-15 925 1250)" stroke="#ccc" stroke-width="8"/><path d="M690 245 Q520 280 470 430 L418 470 L495 552 L580 465 L540 460 Q580 350 690 305 Z" fill="#221f1f" stroke="none"/></g><g transform="translate(1045,1270) scale(0.09317)" stroke-width="16.10" ><path d="M350 1065 L165 1610" stroke-width="9"/></g><g transform="translate(140,1700) scale(0.15011)" stroke-width="9.99" ><g transform="translate(0 0)"><path d="M1300 260 Q1350 190 1430 205 L1895 462 M1300 260 C1262 310 1222 360 1205 400 Q1200 420 1215 438 Q1228 472 1252 490 L1420 600 M1205 400 L1530 600 M1255 375 L1560 560 M1470 635 L1685 770"/><ellipse cx="1445" cy="615" rx="36" ry="22" transform="rotate(35 1445 615)" fill="#fff"/><path d="M1745 385 C1650 420 1572 520 1560 562 Q1545 620 1562 690 M1730 378 C1640 410 1560 500 1545 560" stroke-width="6"/><text x="1515" y="500" font-size="42" font-weight="700" fill="#221f1f" stroke="none" transform="rotate(60 1540 490)" font-family="Liberation Sans,sans-serif">40</text><text x="1660" y="490" font-size="50" font-weight="700" fill="#221f1f" stroke="none" transform="rotate(60 1680 470)" font-family="Liberation Sans,sans-serif">H</text><text x="1575" y="615" font-size="50" font-weight="700" fill="#221f1f" stroke="none" transform="rotate(60 1600 595)" font-family="Liberation Sans,sans-serif">C</text><path d="M1620 515 l25 15" stroke-width="6"/></g><g transform="translate(-897 584)"><path d="M1300 260 Q1350 190 1430 205 L1895 462 M1300 260 C1262 310 1222 360 1205 400 Q1200 420 1215 438 Q1228 472 1252 490 L1420 600 M1205 400 L1530 600 M1255 375 L1560 560 M1470 635 L1685 770"/><ellipse cx="1445" cy="615" rx="36" ry="22" transform="rotate(35 1445 615)" fill="#fff"/><path d="M1745 385 C1650 420 1572 520 1560 562 Q1545 620 1562 690 M1730 378 C1640 410 1560 500 1545 560" stroke-width="6"/><text x="1515" y="500" font-size="42" font-weight="700" fill="#221f1f" stroke="none" transform="rotate(60 1540 490)" font-family="Liberation Sans,sans-serif">40</text><text x="1660" y="490" font-size="50" font-weight="700" fill="#221f1f" stroke="none" transform="rotate(60 1680 470)" font-family="Liberation Sans,sans-serif">H</text><text x="1575" y="615" font-size="50" font-weight="700" fill="#221f1f" stroke="none" transform="rotate(60 1600 595)" font-family="Liberation Sans,sans-serif">C</text><path d="M1620 515 l25 15" stroke-width="6"/></g><path d="M1070 200 Q1050 290 1120 292 Q1200 280 1252 198 L1215 172 Q1170 240 1115 250 Q1090 250 1100 205 Z" fill="#fff"/><path d="M980 132 L1082 92 L1112 205 L1075 192 Q1060 260 1095 290 Q1020 270 1025 175 Z" fill="#221f1f" stroke="none"/><path d="M232 712 L318 705 L318 770 L300 748 Q200 820 165 940 L178 972 L108 990 L72 915 L105 925 Q140 800 240 735 Z" fill="#e4e4e4" stroke-width="7"/><path d="M1312 770 L1372 690 L1345 672 L1425 642 L1432 728 L1408 712 L1352 795 Z" fill="#221f1f" stroke="none"/><path d="M785 870 L645 1060 M590 1310 L730 1120" stroke-width="6"/></g><g transform="translate(760,1620) scale(0.25355)" stroke-width="5.92" ><path d="M1060 735 H1635 Q1645 735 1645 748 V790 Q1645 800 1635 800 H1480 V770 M1170 800 H1480 M1060 735 Q1048 735 1048 750 V792 Q1048 805 1060 805 H1170 V740 M1060 770 H1140 M1140 735 V805 M1480 770 H1645 M1530 735 V770 M1540 742 h20" stroke-width="6"/><path d="M1160 805 L1095 880 M1225 805 L1180 905 M1455 805 L1505 870 M1520 805 L1570 875" stroke-width="6"/><circle cx="1145" cy="900" r="52" fill="#fff" stroke-width="6"/><circle cx="1145" cy="900" r="30" stroke-width="6"/><circle cx="1145" cy="900" r="12" stroke-width="6"/><path d="M1115 900 H1175" stroke-width="5"/><path d="M1131 1050 V1005 H1109 L1145 970 L1181 1005 H1159 V1050 Z" fill="#221f1f" stroke="none"/><circle cx="1530" cy="900" r="52" fill="#fff" stroke-width="6"/><circle cx="1530" cy="900" r="30" stroke-width="6"/><circle cx="1530" cy="900" r="12" stroke-width="6"/><path d="M1500 900 H1560" stroke-width="5"/><path d="M1516 1050 V1005 H1494 L1530 970 L1566 1005 H1544 V1050 Z" fill="#221f1f" stroke="none"/><path d="M1305 815 h70 v22 h-70 Z M1318 837 v18 h44 v-18 M1300 825 l-8 -8 M1380 825 l8 -8" stroke-width="6"/></g><path d="M588.6 2014 H600 V2007 L612 2019.6 L600 2032 V2025 H588.6 Z" fill="#221f1f" stroke="none"/><g transform="translate(2070,815) scale(0.19670)" stroke-width="7.63" ><path d="M390 200 Q400 150 450 148 Q500 150 520 200 L500 240 M540 262 Q560 225 600 240 Q640 270 640 330 M590 270 Q620 260 640 300" fill="#fff"/><ellipse cx="715" cy="430" rx="38" ry="52" transform="rotate(-30 715 430)" fill="#fff"/><path d="M415 365 L90 540 Q70 555 82 575 Q95 595 140 580 L470 398 Z" fill="#fff"/><path d="M140 580 l25 -28" stroke-width="6"/><path d="M240 125 L660 365 Q700 390 690 440 Q670 480 620 465 L205 215 Q190 200 200 175 Q212 130 240 125 Z" fill="#fff"/><path d="M500 392 L585 452 L612 432" fill="none"/><ellipse cx="658" cy="412" rx="36" ry="50" transform="rotate(-30 658 412)" fill="#fff"/><ellipse cx="660" cy="412" rx="16" ry="22" transform="rotate(-30 660 412)"/><path d="M340 182 Q300 210 290 262 M560 310 Q520 340 512 392 M215 178 L300 228 M205 200 L292 250" stroke-width="6"/><path d="M280 200 l30 8 M290 225 l25 5 M528 340 l30 8 M530 365 l25 5" stroke-width="8"/><path d="M340 310 q20 30 60 20" stroke-width="8"/><path d="M100 130 q30 15 5 35 q-30 18 5 35 q30 15 0 35 q-10 20 35 30" stroke-width="5"/><path d="M1410 75 L1845 320 L1840 625 L1415 400 Z M1422 95 L1832 328 L1828 605 L1427 392 Z M1530 160 L1532 455 M1630 215 L1632 510 M1735 275 L1737 565 M1540 250 L1625 215 M1545 270 L1660 228" stroke-width="6"/><path d="M1478 268 L1520 252 L1515 270 L1568 298 L1558 335 L1508 305 L1502 322 Z" fill="#221f1f" stroke="none"/><path d="M1245 410 Q1380 400 1440 275 M1275 455 Q1400 430 1460 300 M1360 440 Q1430 400 1465 335 M1385 480 Q1445 440 1470 360" stroke-width="5"/><circle cx="1348" cy="375" r="12" stroke-width="5"/></g><g transform="translate(1750,1210) scale(0.20704)" stroke-width="7.25" ><path d="M95 845 L172 965 L135 958 L140 1105 L178 1110 L112 1210 L30 1095 L72 1100 L68 960 L25 962 Z" fill="#221f1f" stroke="none"/><circle cx="302" cy="952" r="96" fill="#fff"/><path d="M232 1020 Q330 1060 395 985" stroke-width="6"/><path d="M380 880 Q440 870 470 850 L740 850 L745 920 L480 925 Q420 930 398 975" fill="#fff"/><path d="M400 940 Q440 905 520 905 L740 895" stroke-width="6"/><path d="M460 860 C480 810 540 785 600 775 C660 780 720 810 740 830 L742 860 Q700 880 640 880 Q560 870 520 850 Q490 875 468 870 Z" fill="#fff"/><path d="M480 925 Q500 965 560 965 L640 955 Q665 940 660 915 M545 940 q10 -18 28 -10 M585 935 q10 -18 28 -10 M625 928 q10 -16 26 -8" stroke-width="6" fill="none"/><path d="M740 850 L770 855 L772 925 L745 920 M770 860 L820 870 L822 918 L772 920 M822 875 L950 888 M822 915 L950 932 M800 866 v52"/><path d="M305 805 q20 -8 40 0 M312 822 q15 -6 30 0 M250 1075 q5 15 20 20 M262 1065 q5 12 18 16" stroke-width="5"/><path d="M350 1085 C347.8 1106.6 339.0 1113.8 339.0 1122.44 A11.0 11.0 0 0 0 361.0 1122.44 C361.0 1113.8 352.2 1106.6 350 1085Z" fill="#fff"/><path d="M378 1130 C375.8 1151.6 367.0 1158.8 367.0 1167.44 A11.0 11.0 0 0 0 389.0 1167.44 C389.0 1158.8 380.2 1151.6 378 1130Z" fill="#fff"/><path d="M352 1170 C349.8 1191.6 341.0 1198.8 341.0 1207.44 A11.0 11.0 0 0 0 363.0 1207.44 C363.0 1198.8 354.2 1191.6 352 1170Z" fill="#fff"/><path d="M380 1218 C377.8 1239.6 369.0 1246.8 369.0 1255.44 A11.0 11.0 0 0 0 391.0 1255.44 C391.0 1246.8 382.2 1239.6 380 1218Z" fill="#fff"/></g><g transform="translate(1970.6,1245.8) scale(0.09317)" stroke-width="16.10" ><path d="M1260 790 Q1400 760 1500 960 Q1590 1180 1540 1380 Q1500 1440 1400 1412 L1380 1380" fill="#fff"/><path d="M1300 800 Q1420 800 1500 990 Q1570 1200 1530 1370" stroke-width="22"/><path d="M740 400 C735 255 850 190 960 210 L1080 215 Q1180 170 1230 300 Q1290 450 1250 780 Q1260 900 1300 1020 L1080 1120 L900 960 L905 640 C800 600 745 520 740 400 Z" fill="#fff"/><ellipse cx="925" cy="425" rx="150" ry="205" transform="rotate(-18 925 425)"/><ellipse cx="915" cy="440" rx="85" ry="135" transform="rotate(-18 915 440)"/><ellipse cx="1040" cy="400" rx="65" ry="90" transform="rotate(-18 1040 400)"/><ellipse cx="1030" cy="570" rx="55" ry="65" transform="rotate(-18 1030 570)"/><path d="M1080 1120 L1110 540 M960 600 L965 900"/><path d="M435 385 L190 485 L170 720 C170 880 260 1060 400 1075 C480 1080 510 1040 522 1000 M445 400 L215 495 L200 700 M600 395 L760 520 M540 560 L540 700"/><path d="M265 625 Q225 650 232 760 Q242 900 340 975 Q420 1010 460 940 Q482 880 455 770 M285 660 Q255 700 262 770 Q275 890 350 945 Q410 970 435 920 Q450 860 432 790"/><path d="M520 720 L640 670 L655 672 L860 815 L730 872 M520 720 C512 900 500 980 480 1040 M640 690 C632 880 600 1000 520 1050 L700 1170 M540 740 L650 695 L840 825"/><path d="M730 872 L1090 1140 L1100 1480 Q1050 1532 960 1500 Q780 1440 722 1280 Q710 1100 730 872 Z" fill="#fff"/><path d="M1090 1140 L1500 990 L1520 1360 L1100 1480 M1130 1150 L1135 1465 M750 890 L1095 1118 L1490 975 M1500 990 L1350 880 Q1330 872 1330 900 L1332 990 M1352 905 L1480 1000"/><ellipse cx="920" cy="1240" rx="62" ry="92" transform="rotate(-15 920 1240)" fill="#666"/><ellipse cx="925" cy="1250" rx="35" ry="60" transform="rotate(-15 925 1250)" stroke="#ccc" stroke-width="8"/><path d="M690 245 Q520 280 470 430 L418 470 L495 552 L580 465 L540 460 Q580 350 690 305 Z" fill="#221f1f" stroke="none"/></g><g transform="translate(2090,1210) scale(0.19151)" stroke-width="7.83" ><path d="M255 640 L655 800 M255 690 L655 800 M465 1100 L660 830 M525 1100 L660 830" stroke="#999" stroke-width="9"/><path d="M800 520 Q810 470 870 450 L960 432 Q1010 430 1040 460 L1100 540 L985 640 L880 600 Z" fill="#fff"/><path d="M985 640 L995 620 L1105 560 L1100 540 M800 520 Q850 500 900 560 Q920 600 915 640" stroke-width="7"/><ellipse cx="870" cy="590" rx="48" ry="70" transform="rotate(-30 870 590)" stroke-width="12"/><path d="M1010 660 Q1020 620 1080 610 Q1150 610 1180 680 Q1185 730 1150 745 Z" fill="#fff"/><ellipse cx="1120" cy="690" rx="40" ry="62" transform="rotate(-25 1120 690)" stroke-width="7"/><path d="M1180 740 Q1200 700 1260 700 L1300 690 Q1340 690 1360 730 L1440 900 L1300 860 Z" fill="#fff"/><ellipse cx="1250" cy="770" rx="55" ry="75" transform="rotate(-25 1250 770)" stroke-width="7"/><ellipse cx="1300" cy="745" rx="30" ry="38" stroke-width="7"/><ellipse cx="1215" cy="790" rx="30" ry="45" transform="rotate(-25 1215 790)" stroke-width="12"/><path d="M1320 780 L1400 920 M1350 760 L1430 905" stroke-width="7"/><path d="M1480 935 Q1560 900 1620 990 Q1670 1090 1640 1170 Q1600 1230 1520 1200" fill="#fff"/><ellipse cx="1395" cy="1160" rx="70" ry="60" fill="#fff"/><path d="M655 760 Q640 800 660 850 L740 940 Q770 950 790 930 L900 860 L870 790 Z" fill="#fff"/><ellipse cx="740" cy="820" rx="45" ry="55" transform="rotate(-25 740 820)" stroke-width="7"/><ellipse cx="745" cy="822" rx="25" ry="32" transform="rotate(-25 745 822)" stroke-width="7"/><path d="M770 930 L840 840 M910 905 L912 950 M870 960 q20 -12 40 0 q20 12 40 0 M875 985 q20 -12 40 0 q20 12 40 0" stroke-width="6"/><path d="M480 385 L1440 920 Q1500 960 1505 1010 L1500 1070 Q1480 1150 1400 1150 L1330 1100 L1250 1150 L1040 1020 L1100 975 L590 672 L370 538 Q348 520 355 500 L392 440 Q420 390 480 385 Z" fill="#fff"/><path d="M700 505 C640 530 585 600 575 650 Q570 670 580 690 M715 515 C655 540 600 610 590 660" stroke-width="7"/><path d="M1290 835 C1230 860 1170 920 1150 965 L1100 975 M1150 965 L1330 1100" stroke-width="7"/><path d="M372 490 L600 625 M390 462 L560 565" stroke-width="7"/><ellipse cx="500" cy="640" rx="16" ry="12" stroke-width="7"/><ellipse cx="1425" cy="1062" rx="72" ry="98" transform="rotate(-28 1425 1062)" fill="#fff"/><ellipse cx="1428" cy="1062" rx="32" ry="42" transform="rotate(-28 1428 1062)"/><ellipse cx="1428" cy="1062" rx="18" ry="25" transform="rotate(-28 1428 1062)" stroke-width="7"/><path d="M1265 895 L1340 1085 M1360 900 L1420 1060" stroke-width="5"/><path d="M1180 905 l30 18" stroke-width="12"/><text x="555" y="570" font-size="30" font-weight="700" fill="#221f1f" stroke="none" transform="rotate(60 570 560)" font-family="Liberation Sans,sans-serif">40</text><text x="640" y="540" font-size="34" font-weight="700" fill="#221f1f" stroke="none" transform="rotate(60 660 530)" font-family="Liberation Sans,sans-serif">H</text><text x="585" y="640" font-size="34" font-weight="700" fill="#221f1f" stroke="none" transform="rotate(60 600 625)" font-family="Liberation Sans,sans-serif">C</text><path d="M1105 905 l30 15 M1115 930 l25 12 M1150 870 l30 12" stroke-width="10"/><path d="M1340 1095 L1330 1140 Q1360 1200 1440 1180 L1450 1130 M1360 1080 l60 30 M1365 1100 l55 28" stroke-width="7"/><path d="M600 395 Q560 340 600 290 L640 300 Q620 350 650 375 Q700 360 740 330 L775 355 Q800 300 790 250 Q770 215 720 212 L715 240 Q760 250 760 290 Q740 330 700 345" fill="#fff" stroke-width="7"/><path d="M525 285 L610 252 L640 300 L605 298 Q590 350 625 392 Q560 370 562 292 Z" fill="#221f1f" stroke="none"/><path d="M622 215 L735 205 L745 262 L715 250 Q690 260 660 285 L652 262 Z" fill="#221f1f" stroke="none"/><path d="M1688 1055 Q1590 1030 1530 1085 L1548 1112 Q1600 1075 1680 1075 Z" fill="#221f1f" stroke="none"/><ellipse cx="1535" cy="1105" rx="26" ry="15" transform="rotate(35 1535 1105)" fill="#221f1f" stroke="none"/><path d="M1512 1120 Q1470 1170 1475 1215 L1440 1200 L1490 1270 L1535 1235 L1505 1225 Q1505 1180 1545 1140 Z" fill="#221f1f" stroke="none"/><ellipse cx="1040" cy="1378" rx="62" ry="92" transform="rotate(-15 1040 1378)" fill="#fff"/><path d="M990 1330 Q985 1400 1030 1455" stroke-width="6"/><path d="M1050 1300 L1140 1325 L1105 1350 Q1160 1400 1120 1465 Q1125 1400 1085 1365 L1065 1385 Z" fill="#221f1f" stroke="none"/><path d="M1130 1310 L1390 1150" stroke-width="6"/><path d="M445 1322 V1380 Q460 1400 480 1400 M635 1322 V1380 Q620 1400 600 1400 M480 1400 Q470 1420 485 1440 M600 1400 Q610 1420 595 1440" stroke-width="7"/><path d="M432 1430 Q440 1390 540 1388 Q640 1390 650 1430 L650 1510 Q640 1555 540 1558 Q440 1555 432 1510 Z" fill="#fff"/><path d="M432 1440 Q540 1490 650 1440 M470 1488 v55 M510 1498 v58 M550 1500 v58 M590 1496 v56 M625 1485 v50 M490 1405 Q540 1425 595 1405" stroke-width="6"/><ellipse cx="222" cy="1440" rx="105" ry="55" fill="#fff"/><path d="M117 1440 V1490 M327 1440 V1490 M330 1462 H432" stroke-width="6"/><path d="M117 1450 Q115 1500 150 1525 L145 1480 Z M327 1455 Q330 1520 250 1530 L245 1555 L180 1520 L240 1478 L245 1502 Q300 1495 327 1455 Z" fill="#221f1f" stroke="none"/></g></svg>
<div class="r" style="left:64.8px;top:1331.0px;width:70.0px;height:69.3px;background:#b9b9b9;"></div>
<div class="r" style="left:192.9px;top:1393.0px;width:83.7px;height:50.3px;background:#b9b9b9;"></div>
<div class="r" style="left:519.0px;top:1312.0px;width:70.0px;height:71.4px;background:#b9b9b9;"></div>
<div class="r" style="left:622.8px;top:1399.0px;width:85.2px;height:51.0px;background:#b9b9b9;"></div>
<div class="t" id="t0" style="left:29.09px;top:378.44px;font-size:95.7px;font-weight:700;transform:scaleX(1.3043);">2</div>
<div class="t" id="t1" style="left:150.00px;top:424.57px;font-size:38px;font-weight:900;transform:scaleX(0.9967);">使用方法</div>
<div class="t" id="t2" style="left:127.00px;top:495.38px;font-size:25px;font-weight:700;">切替ハンドルの操作方法</div>
<div class="t" id="t3" style="left:639.69px;top:495.38px;font-size:25px;font-weight:700;transform:scaleX(1.0058);">シャワーヘッドからの水滴について</div>
<div class="t" id="t4" style="left:365.98px;top:555.82px;font-size:24.5px;font-weight:700;transform:scaleX(1.0185);">注 意</div>
<div class="t" id="t5" style="left:329.39px;top:609.64px;font-size:14.96px;font-weight:500;-webkit-text-stroke:0.12px;transform:scaleX(1.1144);"><span class="j">●</span>切替ハンドルは</div>
<div class="t" id="t6" style="left:345.84px;top:629.86px;font-size:14.96px;font-weight:500;-webkit-text-stroke:0.12px;transform:scaleX(1.1616);">全開でご使用く</div>
<div class="t" id="t7" style="left:345.84px;top:650.08px;font-size:14.96px;font-weight:500;-webkit-text-stroke:0.12px;transform:scaleX(1.1633);">ださい。</div>
<div class="t" id="t8" style="left:329.38px;top:670.30px;font-size:14.96px;font-weight:500;-webkit-text-stroke:0.12px;transform:scaleX(1.1239);"><span class="j">●</span>流量を調節する</div>
<div class="t" id="t9" style="left:345.88px;top:690.52px;font-size:14.96px;font-weight:500;-webkit-text-stroke:0.12px;transform:scaleX(1.1165);">場合は、流量調</div>
<div class="t" id="t10" style="left:345.87px;top:710.74px;font-size:14.96px;font-weight:500;-webkit-text-stroke:0.12px;transform:scaleX(1.1275);">節栓で調節して</div>
<div class="t" id="t11" style="left:343.42px;top:730.96px;font-size:14.96px;font-weight:500;-webkit-text-stroke:0.12px;transform:scaleX(1.1935);">ください。</div>
<div class="t" id="t12" style="left:225.89px;top:596.76px;font-size:14.52px;font-weight:900;transform:scaleX(1.1071);">シャワー</div>
<div class="t" id="t13" style="left:223.45px;top:622.63px;font-size:14.78px;font-weight:500;-webkit-text-stroke:0.12px;transform:scaleX(1.1544);">奥に回す</div>
<div class="t" id="t14" style="left:199.00px;top:659.56px;font-size:14.52px;font-weight:900;transform:scaleX(1.1429);">止水</div>
<div class="t" id="t15" style="left:180.85px;top:686.83px;font-size:14.78px;font-weight:500;-webkit-text-stroke:0.12px;transform:scaleX(1.1500);">中央位置</div>
<div class="t" id="t16" style="left:120.81px;top:713.86px;font-size:14.52px;font-weight:900;transform:scaleX(1.1878);">吐水口</div>
<div class="t" id="t17" style="left:105.38px;top:741.13px;font-size:14.78px;font-weight:500;-webkit-text-stroke:0.12px;transform:scaleX(1.1153);">手前に回す</div>
<div class="t" id="t18" style="left:206.42px;top:804.25px;font-size:18.04px;font-weight:900;transform:scaleX(1.0887);">ストップ仕様</div>
<div class="t" id="t19" style="left:65.40px;top:836.88px;font-size:25px;font-weight:700;">ストップシャワーヘッドの使用方法</div>
<div class="t" id="t20" style="left:44.82px;top:881.53px;font-size:15.4px;transform:scaleX(1.0832);">一度調節した温度の湯をシャワーヘッド側で一時止水</div>
<div class="t" id="t21" style="left:44.84px;top:900.93px;font-size:15.4px;transform:scaleX(1.1562);">できます。</div>
<div class="t" id="t22" style="left:141.84px;top:910.56px;font-size:14.52px;font-weight:900;transform:scaleX(1.1607);">シャワー</div>
<div class="t" id="t23" style="left:375.86px;top:910.56px;font-size:14.52px;font-weight:900;transform:scaleX(1.1404);">ストップ</div>
<div class="t" id="t24" style="left:256.86px;top:956.74px;font-size:14.96px;font-weight:700;transform:scaleX(1.1429);">押す</div>
<div class="t" id="t25" style="left:272.89px;top:1003.53px;font-size:15.4px;transform:scaleX(1.1067);">開閉ボタン</div>
<div class="t" id="t26" style="left:351.86px;top:1028.74px;font-size:14.96px;font-weight:700;transform:scaleX(1.1429);">押す</div>
<div class="t" id="t27" style="left:519.90px;top:541.83px;font-size:15.4px;transform:scaleX(1.0958);">止水後、シャワーヘッドから水滴がしばらく落ちる事があります。</div>
<div class="t" id="t28" style="left:517.89px;top:562.13px;font-size:15.4px;transform:scaleX(1.0364);">これはシャワーヘッド内の残留水であり、一定時間だけの現象であれば異常ではありません。</div>
<div class="t" id="t29" style="left:519.90px;top:582.03px;font-size:15.4px;transform:scaleX(1.0997);">水滴が落ちる要因は、落ちる位置によって異なります。</div>
<div class="t" id="t30" style="left:519.91px;top:601.93px;font-size:15.4px;transform:scaleX(1.0899);">下表を参照し、それぞれの現象に合った対処を行ってください。</div>
<div class="t" id="t31" style="left:519.88px;top:639.53px;font-size:15.4px;transform:scaleX(1.1174);">下記の対処を行っても直らない場合は、</div>
<div class="t" id="t32" style="left:821.00px;top:639.53px;font-size:15.4px;font-weight:700;transform:scaleX(1.1053);">取扱説明書</div>
<div class="t" id="t33" style="left:918.94px;top:640.47px;font-size:14.08px;transform:scaleX(0.5312);">メンテナンス編</div>
<div class="t" id="t34" style="left:981.92px;top:639.53px;font-size:15.4px;font-weight:700;transform:scaleX(1.0842);">11.</div>
<div class="t" id="t35" style="left:1008.75px;top:639.53px;font-size:15.4px;font-weight:500;-webkit-text-stroke:0.12px;transform:scaleX(1.1243);">を参照ください。</div>
<div class="t" id="t36" style="left:532.62px;top:676.23px;font-size:15.4px;font-weight:700;transform:scaleX(1.0828);">水滴の落ちる位置</div>
<div class="t" id="t37" style="left:828.91px;top:676.23px;font-size:15.4px;font-weight:700;transform:scaleX(1.0943);">考えられる要因</div>
<div class="t" id="t38" style="left:1117.90px;top:676.23px;font-size:15.4px;font-weight:700;transform:scaleX(1.1034);">対処</div>
<div class="t" id="t39" style="left:710.31px;top:712.23px;font-size:15.4px;transform:scaleX(1.0869);">使用後の水がシャワー散水板の表面張力に</div>
<div class="t" id="t40" style="left:709.15px;top:732.18px;font-size:15.4px;transform:scaleX(1.1257);">より滞留しています。</div>
<div class="t" id="t41" style="left:710.31px;top:752.13px;font-size:15.4px;transform:scaleX(1.0917);">振動や浴室ドアの開閉による気圧の変化な</div>
<div class="t" id="t42" style="left:708.07px;top:772.08px;font-size:15.4px;transform:scaleX(1.1109);">どにより表面張力が弱くなり、</div>
<div class="t" id="t43" style="left:710.32px;top:792.03px;font-size:15.4px;transform:scaleX(1.0836);">ポタポタと流れ出ることが</div>
<div class="t" id="t44" style="left:709.06px;top:811.98px;font-size:15.4px;transform:scaleX(1.1683);">あります。</div>
<div class="t" id="t45" style="left:1067.28px;top:711.53px;font-size:15.4px;transform:scaleX(1.1078);">シャワーヘッド</div>
<div class="t" id="t46" style="left:1067.29px;top:731.43px;font-size:15.4px;transform:scaleX(1.1027);">をよく振る</div>
<div class="t" id="t47" style="left:849.91px;top:826.04px;font-size:14.96px;transform:scaleX(1.0874);">気圧の変化など</div>
<div class="t" id="t48" style="left:709.22px;top:896.13px;font-size:15.4px;transform:scaleX(1.0898);">シャワーヘッドを浴槽や洗面器に浸けるなど</div>
<div class="t" id="t49" style="left:709.21px;top:916.18px;font-size:15.4px;transform:scaleX(1.0934);">すると、シャワーヘッドの隙間から水が浸入</div>
<div class="t" id="t50" style="left:709.15px;top:936.23px;font-size:15.4px;transform:scaleX(1.1257);">することがあります。</div>
<div class="t" id="t51" style="left:708.11px;top:956.28px;font-size:15.4px;transform:scaleX(1.0973);">この水が外装部の隙間</div>
<div class="t" id="t52" style="left:710.32px;top:976.33px;font-size:15.4px;transform:scaleX(1.0829);">から流れ出ることがあ</div>
<div class="t" id="t53" style="left:707.82px;top:996.38px;font-size:15.4px;transform:scaleX(1.1936);">ります。</div>
<div class="t" id="t54" style="left:1067.28px;top:896.13px;font-size:15.4px;transform:scaleX(1.1078);">シャワーヘッド</div>
<div class="t" id="t55" style="left:1067.29px;top:916.53px;font-size:15.4px;transform:scaleX(1.1027);">をよく振る</div>
<div class="t" id="t56" style="left:821.90px;top:1016.74px;font-size:14.96px;transform:scaleX(1.1034);">水の浸入</div>
<div class="t" id="t57" style="left:30.26px;top:1081.88px;font-size:92.8px;font-weight:700;transform:scaleX(1.3696);">3</div>
<div class="t" id="t58" style="left:144.98px;top:1126.07px;font-size:38px;font-weight:900;transform:scaleX(1.0174);">流量の調節方法</div>
<div class="t" id="t59" style="left:212.98px;top:1197.42px;font-size:24.5px;font-weight:700;transform:scaleX(1.0229);">一般用</div>
<div class="t" id="t60" style="left:824.37px;top:1197.42px;font-size:24.5px;font-weight:700;transform:scaleX(1.0347);">寒冷地用</div>
<div class="t" id="t61" style="left:316.18px;top:1242.74px;font-size:14.96px;font-weight:900;transform:scaleX(1.1090);"><span class="j2">■</span>湯側偏心管の場合</div>
<div class="t" id="t62" style="left:49.54px;top:1277.16px;font-size:14.52px;transform:scaleX(1.1620);">流量調節栓</div>
<div class="t" id="t63" style="left:334.23px;top:1278.66px;font-size:14.52px;transform:scaleX(1.1686);">断熱カバー</div>
<div class="t" id="t64" style="left:74.28px;top:1338.93px;font-size:15.4px;font-weight:900;transform:scaleX(1.1200);">流量が</div>
<div class="t" id="t65" style="left:74.26px;top:1359.03px;font-size:15.4px;font-weight:900;transform:scaleX(1.1366);">少なく</div>
<div class="t" id="t66" style="left:74.27px;top:1379.13px;font-size:15.4px;font-weight:900;transform:scaleX(1.1286);">なる</div>
<div class="t" id="t67" style="left:201.71px;top:1400.53px;font-size:15.4px;font-weight:900;transform:scaleX(1.0933);">流量が</div>
<div class="t" id="t68" style="left:201.72px;top:1421.33px;font-size:15.4px;font-weight:900;transform:scaleX(1.0780);">多くなる</div>
<div class="t" id="t69" style="left:141.70px;top:1456.46px;font-size:14.52px;transform:scaleX(1.1031);">マイナスドライバー</div>
<div class="t" id="t70" style="left:141.63px;top:1476.66px;font-size:14.52px;transform:scaleX(1.1741);">など</div>
<div class="t" id="t71" style="left:559.70px;top:1250.46px;font-size:14.52px;transform:scaleX(1.1509);">おさえる</div>
<div class="t" id="t72" style="left:674.33px;top:1249.76px;font-size:14.52px;transform:scaleX(1.1690);">流量調節栓</div>
<div class="t" id="t73" style="left:845.49px;top:1261.42px;font-size:24.5px;font-weight:700;transform:scaleX(1.0130);">注 意</div>
<div class="t" id="t74" style="left:808.18px;top:1315.16px;font-size:14.52px;font-weight:500;-webkit-text-stroke:0.12px;transform:scaleX(1.1088);">ストレーナ本体が回らない</div>
<div class="t" id="t75" style="left:808.29px;top:1335.16px;font-size:14.52px;font-weight:500;-webkit-text-stroke:0.12px;transform:scaleX(1.0529);">ように、ストレーナ本体を</div>
<div class="t" id="t76" style="left:809.28px;top:1355.16px;font-size:14.52px;font-weight:500;-webkit-text-stroke:0.12px;transform:scaleX(1.1153);">もって流量調節栓を回して</div>
<div class="t" id="t77" style="left:807.21px;top:1375.16px;font-size:14.52px;font-weight:500;-webkit-text-stroke:0.12px;transform:scaleX(1.0627);">ください。ストレーナ本体が</div>
<div class="t" id="t78" style="left:808.15px;top:1395.16px;font-size:14.52px;font-weight:500;-webkit-text-stroke:0.12px;transform:scaleX(1.1263);">はずれると高温の湯が出て</div>
<div class="t" id="t79" style="left:809.34px;top:1415.16px;font-size:14.52px;font-weight:500;-webkit-text-stroke:0.12px;transform:scaleX(1.0627);">やけどをしたり、湯水が噴き</div>
<div class="t" id="t80" style="left:808.25px;top:1435.16px;font-size:14.52px;font-weight:500;-webkit-text-stroke:0.12px;transform:scaleX(1.0735);">出して、家財などを濡らす財</div>
<div class="t" id="t81" style="left:809.30px;top:1455.16px;font-size:14.52px;font-weight:500;-webkit-text-stroke:0.12px;transform:scaleX(1.0994);">産損害のおそれがあります。</div>
<div class="t" id="t82" style="left:526.92px;top:1322.53px;font-size:15.4px;font-weight:900;transform:scaleX(1.0756);">流量が</div>
<div class="t" id="t83" style="left:526.90px;top:1342.38px;font-size:15.4px;font-weight:900;transform:scaleX(1.0976);">少なく</div>
<div class="t" id="t84" style="left:526.89px;top:1362.23px;font-size:15.4px;font-weight:900;transform:scaleX(1.1071);">なる</div>
<div class="t" id="t85" style="left:632.30px;top:1407.03px;font-size:15.4px;font-weight:900;transform:scaleX(1.1022);">流量が</div>
<div class="t" id="t86" style="left:632.32px;top:1426.73px;font-size:15.4px;font-weight:900;transform:scaleX(1.0780);">多くなる</div>
<div class="t" id="t87" style="left:684.30px;top:1376.96px;font-size:14.52px;transform:scaleX(1.1014);">ストレーナ</div>
<div class="t" id="t88" style="left:724.74px;top:1396.96px;font-size:14.52px;transform:scaleX(1.1643);">本体</div>
<div class="t" id="t89" style="left:526.89px;top:1466.46px;font-size:14.52px;transform:scaleX(1.1083);">マイナスドライバーなど</div>
<div class="t" id="t90" style="left:1056.34px;top:1425.56px;font-size:14.52px;transform:scaleX(1.1643);">断熱カバー</div>
<div class="t" id="t91" style="left:27.62px;top:1527.44px;font-size:95.7px;font-weight:700;transform:scaleX(1.3846);">4</div>
<div class="t" id="t92" style="left:144.98px;top:1573.07px;font-size:38px;font-weight:900;transform:scaleX(1.0181);">温度の調節方法</div>
<div class="t" id="t93" style="left:211.80px;top:1644.88px;font-size:25px;font-weight:700;">温度調節ハンドルの操作方法</div>
<div class="t" id="t94" style="left:863.99px;top:1644.88px;font-size:25px;font-weight:700;transform:scaleX(1.0098);">給湯機の設定について</div>
<div class="t" id="t95" style="left:46.32px;top:1689.13px;font-size:15.4px;font-weight:500;-webkit-text-stroke:0.12px;transform:scaleX(1.0400);">目盛をポイント表示に合わせてください。（数字は温度の目安としてご使用ください。）</div>
<div class="t" id="t96" style="left:182.59px;top:1718.23px;font-size:15.4px;font-weight:900;transform:scaleX(1.1147);">高温の使用</div>
<div class="t" id="t97" style="left:176.52px;top:1744.53px;font-size:15.4px;font-weight:500;-webkit-text-stroke:0.12px;transform:scaleX(1.0767);">安全ボタンを</div>
<div class="t" id="t98" style="left:184.63px;top:1763.83px;font-size:15.4px;font-weight:500;-webkit-text-stroke:0.12px;transform:scaleX(1.0743);">押して回す</div>
<div class="t" id="t99" style="left:57.42px;top:1778.83px;font-size:15.4px;font-weight:900;transform:scaleX(1.0767);">温度が上がる</div>
<div class="t" id="t100" style="left:73.62px;top:1803.83px;font-size:15.4px;font-weight:500;-webkit-text-stroke:0.12px;transform:scaleX(1.0767);">奥に回す</div>
<div class="t" id="t101" style="left:62.72px;top:1862.73px;font-size:15.4px;font-weight:900;transform:scaleX(1.0767);">温度が下がる</div>
<div class="t" id="t102" style="left:71.63px;top:1887.83px;font-size:15.4px;font-weight:500;-webkit-text-stroke:0.12px;transform:scaleX(1.0653);">手前に回す</div>
<div class="t" id="t103" style="left:242.95px;top:1811.56px;font-size:14.52px;transform:scaleX(1.2731);">目盛</div>
<div class="t" id="t104" style="left:297.56px;top:1824.46px;font-size:14.52px;transform:scaleX(1.1429);">安全ボタン</div>
<div class="t" id="t105" style="left:168.51px;top:1898.36px;font-size:14.52px;transform:scaleX(1.0855);">ポイント</div>
<div class="t" id="t106" style="left:489.17px;top:1729.62px;font-size:24.5px;font-weight:700;transform:scaleX(1.0278);">注 意</div>
<div class="t" id="t107" style="left:451.90px;top:1784.16px;font-size:14.52px;font-weight:500;-webkit-text-stroke:0.12px;transform:scaleX(1.0967);"><span class="j">●</span>安全ボタンを押さずに回すと器具を</div>
<div class="t" id="t108" style="left:469.50px;top:1804.36px;font-size:14.52px;font-weight:500;-webkit-text-stroke:0.12px;transform:scaleX(1.0927);">破損するおそれがあります。</div>
<div class="t" id="t109" style="left:451.90px;top:1824.56px;font-size:14.52px;font-weight:500;-webkit-text-stroke:0.12px;transform:scaleX(1.0967);"><span class="j">●</span>高温の湯を使用した後は必ず、温度</div>
<div class="t" id="t110" style="left:469.50px;top:1844.76px;font-size:14.52px;font-weight:500;-webkit-text-stroke:0.12px;transform:scaleX(1.2271);">調節ハンドルを40以下に戻して</div>
<div class="t" id="t111" style="left:466.30px;top:1864.96px;font-size:14.52px;font-weight:500;-webkit-text-stroke:0.12px;transform:scaleX(1.0658);">しばらく水を流してください。</div>
<div class="t" id="t112" style="left:45.89px;top:1940.60px;font-size:13.2px;transform:scaleX(1.2556);"><span class="j">※</span></div>
<div class="t" id="t113" style="left:68.36px;top:1940.34px;font-size:13.73px;font-weight:500;-webkit-text-stroke:0.12px;transform:scaleX(1.0377);">本製品はやけど防止のため、安全ボタンを押してH最大まで回しても水が混ざる構造となっており、</div>
<div class="t" id="t114" style="left:68.47px;top:1959.96px;font-size:14.52px;font-weight:500;-webkit-text-stroke:0.12px;transform:scaleX(0.9321);">H最大まで回しても給湯機の設定温度より低温の湯が出ます。</div>
<div class="t" id="t115" style="left:45.89px;top:1987.00px;font-size:13.2px;transform:scaleX(1.2556);"><span class="j">※</span></div>
<div class="t" id="t116" style="left:68.40px;top:1986.74px;font-size:13.73px;font-weight:500;-webkit-text-stroke:0.12px;">安全ボタンを押して温調ハンドルをまわしても高温の湯が</div>
<div class="t" id="t117" style="left:68.40px;top:2007.74px;font-size:13.73px;font-weight:500;-webkit-text-stroke:0.12px;">出ないときは、給湯機（給湯リモコンなど）の給湯温度を</div>
<div class="t" id="t118" style="left:75.85px;top:2028.36px;font-size:14.52px;font-weight:900;transform:scaleX(1.1456);">50〜60℃に設定</div>
<div class="t" id="t119" style="left:202.89px;top:2028.74px;font-size:13.73px;font-weight:500;-webkit-text-stroke:0.12px;">した後、水栓側の温</div>
<div class="t" id="t120" style="left:65.59px;top:2050.14px;font-size:13.73px;font-weight:500;-webkit-text-stroke:0.12px;transform:scaleX(1.0138);">度調節ハンドルをH側へ回してください。</div>
<div class="t" id="t121" style="left:489.40px;top:1997.13px;font-size:9px;font-weight:500;-webkit-text-stroke:0.12px;transform:scaleX(1.1111);">給湯</div>
<div class="t" id="t122" style="left:514.40px;top:1993.68px;font-size:13.64px;transform:scaleX(1.1786);">42℃</div>
<div class="t" id="t123" style="left:471.40px;top:2031.36px;font-size:7.5px;font-weight:700;transform:scaleX(1.2000);">運転</div>
<div class="t" id="t124" style="left:469.15px;top:2040.86px;font-size:7.5px;font-weight:500;-webkit-text-stroke:0.12px;transform:scaleX(1.2500);">入/切</div>
<div class="t" id="t125" style="left:510.25px;top:2031.36px;font-size:7.5px;font-weight:500;-webkit-text-stroke:0.12px;transform:scaleX(1.1538);">ふろ</div>
<div class="t" id="t126" style="left:509.19px;top:2040.86px;font-size:7.5px;font-weight:700;transform:scaleX(1.2143);">自動</div>
<div class="t" id="t127" style="left:550.40px;top:2035.86px;font-size:7.5px;font-weight:700;transform:scaleX(1.0667);">優先</div>
<div class="t" id="t128" style="left:650.30px;top:1997.13px;font-size:9px;font-weight:500;-webkit-text-stroke:0.12px;transform:scaleX(1.1111);">給湯</div>
<div class="t" id="t129" style="left:674.08px;top:1993.68px;font-size:13.64px;transform:scaleX(1.2222);">60℃</div>
<div class="t" id="t130" style="left:632.30px;top:2031.36px;font-size:7.5px;font-weight:700;transform:scaleX(1.2000);">運転</div>
<div class="t" id="t131" style="left:630.05px;top:2040.86px;font-size:7.5px;font-weight:500;-webkit-text-stroke:0.12px;transform:scaleX(1.2500);">入/切</div>
<div class="t" id="t132" style="left:671.15px;top:2031.36px;font-size:7.5px;font-weight:500;-webkit-text-stroke:0.12px;transform:scaleX(1.1538);">ふろ</div>
<div class="t" id="t133" style="left:670.09px;top:2040.86px;font-size:7.5px;font-weight:700;transform:scaleX(1.2143);">自動</div>
<div class="t" id="t134" style="left:711.30px;top:2035.86px;font-size:7.5px;font-weight:700;transform:scaleX(1.0667);">優先</div>
<div class="t" id="t135" style="left:783.05px;top:1688.53px;font-size:15.4px;transform:scaleX(0.9504);"><span class="j">●</span>給湯機（給湯リモコンなど）の給湯温度は、誤操作などによ</div>
<div class="t" id="t136" style="left:798.62px;top:1710.13px;font-size:15.4px;transform:scaleX(0.9877);">るやけど防止のため、50〜60℃設定をおすすめします。</div>
<div class="t" id="t137" style="left:782.94px;top:1739.33px;font-size:15.4px;transform:scaleX(1.0595);"><span class="j">●</span>給湯機の設定温度が優先されるため、設定温度が低い</div>
<div class="t" id="t138" style="left:797.46px;top:1760.33px;font-size:15.4px;transform:scaleX(1.0462);">とサーモ機能が正常に作動しないおそれがあります。</div>
<div class="t" id="t139" style="left:782.87px;top:1790.03px;font-size:15.4px;transform:scaleX(1.1322);"><span class="j">●</span>水温の高い夏場で吐水量</div>
<div class="t" id="t140" style="left:798.51px;top:1809.83px;font-size:15.4px;transform:scaleX(1.0473);">を少なくして使うと瞬間式</div>
<div class="t" id="t141" style="left:799.55px;top:1830.53px;font-size:15.4px;transform:scaleX(1.0473);">給湯機の場合、着火しない</div>
<div class="t" id="t142" style="left:797.42px;top:1851.33px;font-size:15.4px;transform:scaleX(1.0589);">ことがあります。この場合</div>
<div class="t" id="t143" style="left:798.49px;top:1872.43px;font-size:15.4px;transform:scaleX(1.0530);">には、水栓側のハンドルを</div>
<div class="t" id="t144" style="left:799.56px;top:1893.53px;font-size:15.4px;transform:scaleX(1.0415);">全開に（吐水量を多く）す</div>
<div class="t" id="t145" style="left:798.49px;top:1914.23px;font-size:15.4px;transform:scaleX(1.0530);">るか、給湯機の温度設定を</div>
<div class="t" id="t146" style="left:799.59px;top:1935.83px;font-size:15.4px;transform:scaleX(1.0080);">下げてください。</div>
<div class="t" id="t147" style="left:1022.92px;top:1895.96px;font-size:17.6px;transform:scaleX(1.0784);">給湯側</div>
<div class="t" id="t148" style="left:1119.92px;top:1895.96px;font-size:17.6px;transform:scaleX(1.0784);">給水側</div>
<div class="t" id="t149" style="left:1011.79px;top:1928.50px;font-size:16.28px;transform:scaleX(1.2090);">50〜60℃</div>
<div class="t" id="t150" style="left:794.00px;top:1975.45px;font-size:14.34px;font-weight:700;color:#fff;transform:scaleX(1.1229);">設定・調整作業は承っておりますが、有料作業となり</div>
<div class="t" id="t151" style="left:791.89px;top:1996.35px;font-size:14.34px;font-weight:700;color:#fff;transform:scaleX(1.0536);">ます。（作業費として、「技術料」＋「部品代」＋「出張料」</div>
<div class="t" id="t152" style="left:792.86px;top:2017.25px;font-size:14.34px;font-weight:700;color:#fff;transform:scaleX(1.1429);">を請求させていただきます。）</div>
<div class="t" id="t153" style="left:792.88px;top:2038.15px;font-size:14.34px;font-weight:700;color:#fff;transform:scaleX(1.1229);">実作業を伴わずに復旧した場合は、「出張料」のみの請</div>
<div class="t" id="t154" style="left:792.91px;top:2059.05px;font-size:14.34px;font-weight:700;color:#fff;transform:scaleX(1.0909);">求となります。</div>
<div class="t" id="t155" style="left:1269.20px;top:387.70px;font-size:84.1px;font-weight:700;transform:scaleX(1.2683);">5</div>
<div class="t" id="t156" style="left:1389.49px;top:424.57px;font-size:38px;font-weight:900;transform:scaleX(1.0051);">温度調節ハンドルの設定方法</div>
<div class="t" id="t157" style="left:1298.92px;top:489.44px;font-size:14.96px;transform:scaleX(1.0771);"><span class="j">●</span>温度調節部は工場出荷前に調整済ですが、取付現場の圧力、給湯温度</div>
<div class="t" id="t158" style="left:1314.93px;top:509.54px;font-size:14.96px;transform:scaleX(1.0711);">などの条件により目盛と異なる温度の混合水が出る事があります。</div>
<div class="t" id="t159" style="left:1312.81px;top:529.24px;font-size:14.96px;transform:scaleX(1.0617);">このような場合は温度調節ハンドルの設定を行ってください。</div>
<div class="t" id="t160" style="left:1291.62px;top:565.26px;font-size:17.6px;font-weight:700;transform:scaleX(1.1767);">施工説明書</div>
<div class="t" id="t161" style="left:1422.90px;top:566.19px;font-size:16.72px;font-weight:500;-webkit-text-stroke:0.12px;transform:scaleX(1.1042);">施工編</div>
<div class="t" id="t162" style="left:1498.70px;top:565.26px;font-size:17.6px;font-weight:700;transform:scaleX(1.7022);">11.12.</div>
<div class="t" id="t163" style="left:1583.75px;top:565.26px;font-size:17.6px;font-weight:500;-webkit-text-stroke:0.12px;transform:scaleX(1.1260);">を参照ください。</div>
<div class="t" id="t164" style="left:1299.30px;top:618.65px;font-size:14.34px;font-weight:700;color:#fff;transform:scaleX(1.1142);">設定・調整作業は承っておりますが、有料作業となります。</div>
<div class="t" id="t165" style="left:1292.87px;top:638.75px;font-size:14.34px;font-weight:700;color:#fff;transform:scaleX(1.0698);">（作業費として、「技術料」＋「部品代」＋「出張料」を請求させていただきます。）</div>
<div class="t" id="t166" style="left:1298.18px;top:658.85px;font-size:14.34px;font-weight:700;color:#fff;transform:scaleX(1.1155);">実作業を伴わずに復旧した場合は、「出張料」のみの請求となります。</div>
<div class="t" id="t167" style="left:1268.93px;top:716.26px;font-size:87.0px;font-weight:700;transform:scaleX(1.6905);">6</div>
<div class="t" id="t168" style="left:1388.48px;top:756.07px;font-size:38px;font-weight:900;transform:scaleX(1.0170);">凍結の予防方法</div>
<div class="t" id="t169" style="left:1754.60px;top:777.96px;font-size:14.52px;transform:scaleX(1.1036);"><span class="j">●</span>凍結のおそれがある場合は、次の処置によって一般用でも凍結を予防できる場合があります。</div>
<div class="t" id="t170" style="left:1289.49px;top:830.82px;font-size:18.92px;transform:scaleX(1.0554);"><span class="j2">■</span> 水栓より少量の水を出してください。</div>
<div class="t" id="t171" style="left:1289.46px;top:856.72px;font-size:18.92px;transform:scaleX(1.0693);"><span class="j2">■</span> 配管部などに保温材を巻いてください。</div>
<div class="t" id="t172" style="left:1289.49px;top:882.62px;font-size:18.92px;transform:scaleX(1.0541);"><span class="j2">■</span> 屋内の窓を閉めるなどして、水栓周囲の温度が氷点下にならないようにしてください。</div>
<div class="t" id="t173" style="left:1419.85px;top:931.25px;font-size:18.04px;font-weight:900;transform:scaleX(1.1540);">凍結による破損は保証期間内でも有料修理となります。</div>
<div class="t" id="t174" style="left:2205.86px;top:837.17px;font-size:14.08px;transform:scaleX(1.1443);">窓を閉めるなど</div>
<div class="t" id="t175" style="left:2161.82px;top:943.17px;font-size:14.08px;transform:scaleX(1.1840);">少量の水を出すなど</div>
<div class="t" id="t176" style="left:1269.92px;top:1005.12px;font-size:91.3px;font-weight:700;transform:scaleX(1.4698);">7</div>
<div class="t" id="t177" style="left:1391.60px;top:1048.57px;font-size:38px;font-weight:900;">水抜き方法</div>
<div class="t" id="t178" style="left:1623.96px;top:1057.12px;font-size:24.5px;font-weight:900;transform:scaleX(1.0421);">寒冷地用</div>
<div class="t" id="t179" style="left:1790.90px;top:1052.96px;font-size:14.52px;transform:scaleX(1.1005);"><span class="j">●</span>寒冷地用は寒冷地において配管中の水を抜く設備（水抜栓）とあわせて使用する製品です。</div>
<div class="t" id="t180" style="left:1806.91px;top:1072.96px;font-size:14.52px;transform:scaleX(1.0913);">凍結のおそれがある場合は、下記の方法で水抜きをしてください。</div>
<div class="t" id="t181" style="left:1300.31px;top:1130.46px;font-size:17.6px;font-weight:700;transform:scaleX(1.1875);">1</div>
<div class="t" id="t182" style="left:1329.15px;top:1130.46px;font-size:17.6px;font-weight:900;transform:scaleX(1.1521);">元栓を閉め、配管の水抜栓を開けます。</div>
<div class="t" id="t183" style="left:1299.74px;top:1161.96px;font-size:17.6px;font-weight:700;transform:scaleX(1.7625);">2</div>
<div class="t" id="t184" style="left:1329.13px;top:1161.96px;font-size:17.6px;font-weight:900;transform:scaleX(1.1663);">湯側偏心管の断熱カバーをはずします。</div>
<div class="t" id="t185" style="left:1299.74px;top:1193.46px;font-size:17.6px;font-weight:700;transform:scaleX(1.7625);">3</div>
<div class="t" id="t186" style="left:1330.30px;top:1193.46px;font-size:17.6px;font-weight:900;transform:scaleX(1.1538);">切替ハンドルを吐水口側へ回します。</div>
<div class="t" id="t187" style="left:1301.50px;top:1225.06px;font-size:17.6px;font-weight:700;transform:scaleX(1.4100);">4</div>
<div class="t" id="t188" style="left:1329.14px;top:1225.06px;font-size:17.6px;font-weight:900;transform:scaleX(1.1589);">水抜プラグ・ストレーナ本体をすべてゆるめ</div>
<div class="t" id="t189" style="left:1326.76px;top:1249.06px;font-size:17.6px;font-weight:900;transform:scaleX(1.1811);">ます。</div>
<div class="t" id="t190" style="left:1299.74px;top:1280.46px;font-size:17.6px;font-weight:700;transform:scaleX(1.7625);">5</div>
<div class="t" id="t191" style="left:1329.15px;top:1280.46px;font-size:17.6px;font-weight:900;transform:scaleX(1.1492);">温度調節ハンドルをH側へ回して水を抜き、</div>
<div class="t" id="t192" style="left:1327.97px;top:1305.26px;font-size:17.6px;font-weight:900;transform:scaleX(1.1636);">さらにC側へ回して水を抜きます。</div>
<div class="t" id="t193" style="left:1320.16px;top:1330.46px;font-size:17.6px;font-weight:900;transform:scaleX(1.1675);">（何度か回してください。）</div>
<div class="t" id="t194" style="left:1299.74px;top:1361.46px;font-size:17.6px;font-weight:700;transform:scaleX(1.7625);">6</div>
<div class="t" id="t195" style="left:1330.30px;top:1361.46px;font-size:17.6px;font-weight:900;transform:scaleX(1.1207);">切替ハンドルをシャワー側へ回します。</div>
<div class="t" id="t196" style="left:1299.74px;top:1393.06px;font-size:17.6px;font-weight:700;transform:scaleX(1.7625);">7</div>
<div class="t" id="t197" style="left:1329.17px;top:1393.06px;font-size:17.6px;font-weight:900;transform:scaleX(1.1253);">シャワーヘッドを器具より下にさげ、</div>
<div class="t" id="t198" style="left:1329.18px;top:1417.46px;font-size:17.6px;font-weight:900;transform:scaleX(1.1159);">シャワーヘッドとホースを振って水を</div>
<div class="t" id="t199" style="left:1330.30px;top:1442.96px;font-size:17.6px;font-weight:900;transform:scaleX(1.1154);">抜き、床に置きます。</div>
<div class="t" id="t200" style="left:1313.86px;top:1497.82px;font-size:18.92px;font-weight:500;-webkit-text-stroke:0.12px;transform:scaleX(1.1351);">再使用時</div>
<div class="t" id="t201" style="left:1297.94px;top:1534.76px;font-size:14.52px;transform:scaleX(1.0609);"><span class="j">●</span>すべての水抜プラグ・ストレーナ本体が確実に閉まっ ているか確認してください。</div>
<div class="t" id="t202" style="left:1297.94px;top:1556.96px;font-size:14.52px;transform:scaleX(1.0557);"><span class="j">●</span>切替ハンドルを止水位置にして配管の水抜栓を閉め、元栓を開けます。</div>
<div class="t" id="t203" style="left:1297.94px;top:1579.96px;font-size:14.52px;transform:scaleX(1.0633);"><span class="j">●</span>水抜きをしてもストレーナの網に付着した水滴が凍り、吐水しない場合があります。</div>
<div class="t" id="t204" style="left:1314.55px;top:1602.36px;font-size:14.52px;transform:scaleX(1.0498);">その場合は、ぬるま湯をかけて温めてください。</div>
<div class="t" id="t205" style="left:1819.94px;top:1142.62px;font-size:24.5px;font-weight:700;transform:scaleX(1.0638);">警告</div>
<div class="t" id="t206" style="left:1785.84px;top:1191.96px;font-size:14.52px;font-weight:500;-webkit-text-stroke:0.12px;transform:scaleX(1.1565);">水抜部は高温の湯</div>
<div class="t" id="t207" style="left:1785.86px;top:1211.96px;font-size:14.52px;font-weight:500;-webkit-text-stroke:0.12px;transform:scaleX(1.1416);">が出てやけどする</div>
<div class="t" id="t208" style="left:1785.88px;top:1231.96px;font-size:14.52px;font-weight:500;-webkit-text-stroke:0.12px;transform:scaleX(1.1176);">おそれがあります。</div>
<div class="t" id="t209" style="left:1784.85px;top:1251.96px;font-size:14.52px;font-weight:500;-webkit-text-stroke:0.12px;transform:scaleX(1.0762);">ご注意ください。</div>
<div class="t" id="t210" style="left:1802.88px;top:1332.60px;font-size:13.2px;font-weight:900;transform:scaleX(1.1171);">7　シャワーヘッド</div>
<div class="t" id="t211" style="left:1848.96px;top:1436.81px;font-size:12.76px;transform:scaleX(1.0185);">よく振って水を抜く</div>
<div class="t" id="t212" style="left:1987.50px;top:1232.30px;font-size:13.2px;font-weight:900;transform:scaleX(1.1706);">2　断熱カバー</div>
<div class="t" id="t213" style="left:2117.50px;top:1436.90px;font-size:13.2px;font-weight:900;transform:scaleX(1.1756);">4　水抜プラグ</div>
<div class="t" id="t214" style="left:2250.23px;top:1235.50px;font-size:13.2px;font-weight:900;transform:scaleX(1.1718);">5　温度調節ハンドル</div>
<div class="t" id="t215" style="left:2420.60px;top:1391.40px;font-size:13.2px;font-weight:900;transform:scaleX(1.5429);">6</div>
<div class="t" id="t216" style="left:2352.46px;top:1462.60px;font-size:13.2px;font-weight:900;transform:scaleX(1.2370);">3　切替</div>
<div class="t" id="t217" style="left:2380.87px;top:1481.10px;font-size:13.2px;font-weight:900;transform:scaleX(1.1294);">ハンドル</div>
<div class="t" id="t218" style="left:2250.00px;top:1502.60px;font-size:13.2px;font-weight:900;transform:scaleX(1.1469);">4　ストレーナ本体</div>
</div></body></html>
